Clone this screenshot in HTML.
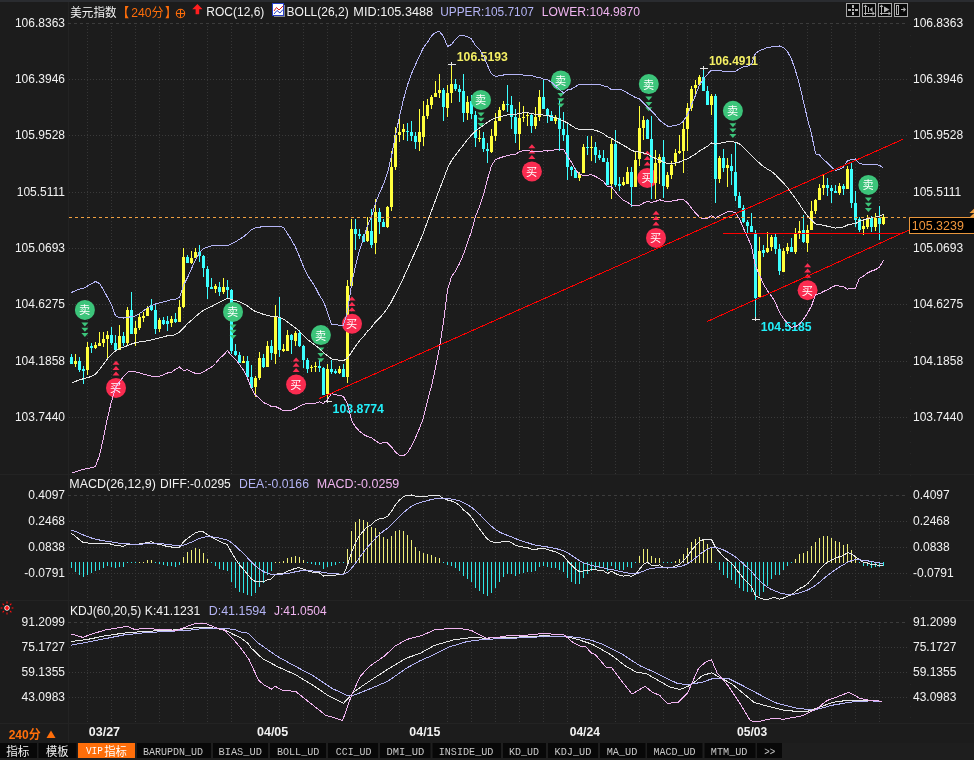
<!DOCTYPE html>
<html><head><meta charset="utf-8"><style>
html,body{margin:0;padding:0;background:#1c1c1c;}
body{width:974px;height:760px;overflow:hidden;position:relative;}
</style></head><body>
<svg width="974" height="760" viewBox="0 0 974 760" style="position:absolute;left:0;top:0" font-family="Liberation Sans, Arial, sans-serif"><defs><clipPath id="cm"><rect x="69" y="22" width="838" height="452"/></clipPath><clipPath id="cmacd"><rect x="69" y="475" width="838" height="125"/></clipPath><clipPath id="ckdj"><rect x="69" y="601" width="838" height="122"/></clipPath></defs><rect width="974" height="760" fill="#1c1c1c"/><rect x="0" y="0" width="974" height="2" fill="#2a2c30"/><g shape-rendering="crispEdges"><rect x="0" y="474" width="974" height="1" fill="#232323"/><rect x="0" y="600" width="974" height="1" fill="#232323"/><rect x="0" y="723" width="974" height="1" fill="#232323"/><rect x="68" y="2" width="1" height="741" fill="#232323"/><line x1="910.5" y1="24" x2="910.5" y2="722" stroke="#262626" stroke-dasharray="1 10"/><line x1="68" y1="23.5" x2="907" y2="23.5" stroke="#3c3c3c" stroke-dasharray="3 3"/><line x1="69" y1="79.5" x2="907" y2="79.5" stroke="#3a3a3a" stroke-dasharray="1 2"/><line x1="69" y1="135.5" x2="907" y2="135.5" stroke="#3a3a3a" stroke-dasharray="1 2"/><line x1="69" y1="192.5" x2="907" y2="192.5" stroke="#3a3a3a" stroke-dasharray="1 2"/><line x1="69" y1="248.5" x2="907" y2="248.5" stroke="#3a3a3a" stroke-dasharray="1 2"/><line x1="69" y1="304.5" x2="907" y2="304.5" stroke="#3a3a3a" stroke-dasharray="1 2"/><line x1="69" y1="361.5" x2="907" y2="361.5" stroke="#3a3a3a" stroke-dasharray="1 2"/><line x1="69" y1="417.5" x2="907" y2="417.5" stroke="#3a3a3a" stroke-dasharray="1 2"/><line x1="68" y1="495.5" x2="907" y2="495.5" stroke="#3c3c3c" stroke-dasharray="3 3"/><line x1="69" y1="521.5" x2="907" y2="521.5" stroke="#3a3a3a" stroke-dasharray="1 2"/><line x1="69" y1="547.5" x2="907" y2="547.5" stroke="#3a3a3a" stroke-dasharray="1 2"/><line x1="69" y1="573.5" x2="907" y2="573.5" stroke="#3a3a3a" stroke-dasharray="1 2"/><line x1="68" y1="622.5" x2="907" y2="622.5" stroke="#3c3c3c" stroke-dasharray="3 3"/><line x1="69" y1="647.5" x2="907" y2="647.5" stroke="#3a3a3a" stroke-dasharray="1 2"/><line x1="69" y1="672.5" x2="907" y2="672.5" stroke="#3a3a3a" stroke-dasharray="1 2"/><line x1="69" y1="697.5" x2="907" y2="697.5" stroke="#3a3a3a" stroke-dasharray="1 2"/><line x1="87.5" y1="26" x2="87.5" y2="474" stroke="#363636" stroke-dasharray="1 2"/><line x1="87.5" y1="498" x2="87.5" y2="600" stroke="#363636" stroke-dasharray="1 2"/><line x1="87.5" y1="625" x2="87.5" y2="723" stroke="#363636" stroke-dasharray="1 2"/><line x1="111.5" y1="26" x2="111.5" y2="474" stroke="#363636" stroke-dasharray="1 2"/><line x1="111.5" y1="498" x2="111.5" y2="600" stroke="#363636" stroke-dasharray="1 2"/><line x1="111.5" y1="625" x2="111.5" y2="723" stroke="#363636" stroke-dasharray="1 2"/><line x1="135.5" y1="26" x2="135.5" y2="474" stroke="#363636" stroke-dasharray="1 2"/><line x1="135.5" y1="498" x2="135.5" y2="600" stroke="#363636" stroke-dasharray="1 2"/><line x1="135.5" y1="625" x2="135.5" y2="723" stroke="#363636" stroke-dasharray="1 2"/><line x1="159.5" y1="26" x2="159.5" y2="474" stroke="#363636" stroke-dasharray="1 2"/><line x1="159.5" y1="498" x2="159.5" y2="600" stroke="#363636" stroke-dasharray="1 2"/><line x1="159.5" y1="625" x2="159.5" y2="723" stroke="#363636" stroke-dasharray="1 2"/><line x1="183.5" y1="26" x2="183.5" y2="474" stroke="#363636" stroke-dasharray="1 2"/><line x1="183.5" y1="498" x2="183.5" y2="600" stroke="#363636" stroke-dasharray="1 2"/><line x1="183.5" y1="625" x2="183.5" y2="723" stroke="#363636" stroke-dasharray="1 2"/><line x1="207.5" y1="26" x2="207.5" y2="474" stroke="#363636" stroke-dasharray="1 2"/><line x1="207.5" y1="498" x2="207.5" y2="600" stroke="#363636" stroke-dasharray="1 2"/><line x1="207.5" y1="625" x2="207.5" y2="723" stroke="#363636" stroke-dasharray="1 2"/><line x1="231.5" y1="26" x2="231.5" y2="474" stroke="#363636" stroke-dasharray="1 2"/><line x1="231.5" y1="498" x2="231.5" y2="600" stroke="#363636" stroke-dasharray="1 2"/><line x1="231.5" y1="625" x2="231.5" y2="723" stroke="#363636" stroke-dasharray="1 2"/><line x1="255.5" y1="26" x2="255.5" y2="474" stroke="#363636" stroke-dasharray="1 2"/><line x1="255.5" y1="498" x2="255.5" y2="600" stroke="#363636" stroke-dasharray="1 2"/><line x1="255.5" y1="625" x2="255.5" y2="723" stroke="#363636" stroke-dasharray="1 2"/><line x1="279.5" y1="26" x2="279.5" y2="474" stroke="#363636" stroke-dasharray="1 2"/><line x1="279.5" y1="498" x2="279.5" y2="600" stroke="#363636" stroke-dasharray="1 2"/><line x1="279.5" y1="625" x2="279.5" y2="723" stroke="#363636" stroke-dasharray="1 2"/><line x1="303.5" y1="26" x2="303.5" y2="474" stroke="#363636" stroke-dasharray="1 2"/><line x1="303.5" y1="498" x2="303.5" y2="600" stroke="#363636" stroke-dasharray="1 2"/><line x1="303.5" y1="625" x2="303.5" y2="723" stroke="#363636" stroke-dasharray="1 2"/><line x1="327.5" y1="26" x2="327.5" y2="474" stroke="#363636" stroke-dasharray="1 2"/><line x1="327.5" y1="498" x2="327.5" y2="600" stroke="#363636" stroke-dasharray="1 2"/><line x1="327.5" y1="625" x2="327.5" y2="723" stroke="#363636" stroke-dasharray="1 2"/><line x1="351.5" y1="26" x2="351.5" y2="474" stroke="#363636" stroke-dasharray="1 2"/><line x1="351.5" y1="498" x2="351.5" y2="600" stroke="#363636" stroke-dasharray="1 2"/><line x1="351.5" y1="625" x2="351.5" y2="723" stroke="#363636" stroke-dasharray="1 2"/><line x1="375.5" y1="26" x2="375.5" y2="474" stroke="#363636" stroke-dasharray="1 2"/><line x1="375.5" y1="498" x2="375.5" y2="600" stroke="#363636" stroke-dasharray="1 2"/><line x1="375.5" y1="625" x2="375.5" y2="723" stroke="#363636" stroke-dasharray="1 2"/><line x1="399.5" y1="26" x2="399.5" y2="474" stroke="#363636" stroke-dasharray="1 2"/><line x1="399.5" y1="498" x2="399.5" y2="600" stroke="#363636" stroke-dasharray="1 2"/><line x1="399.5" y1="625" x2="399.5" y2="723" stroke="#363636" stroke-dasharray="1 2"/><line x1="423.5" y1="26" x2="423.5" y2="474" stroke="#363636" stroke-dasharray="1 2"/><line x1="423.5" y1="498" x2="423.5" y2="600" stroke="#363636" stroke-dasharray="1 2"/><line x1="423.5" y1="625" x2="423.5" y2="723" stroke="#363636" stroke-dasharray="1 2"/><line x1="447.5" y1="26" x2="447.5" y2="474" stroke="#363636" stroke-dasharray="1 2"/><line x1="447.5" y1="498" x2="447.5" y2="600" stroke="#363636" stroke-dasharray="1 2"/><line x1="447.5" y1="625" x2="447.5" y2="723" stroke="#363636" stroke-dasharray="1 2"/><line x1="471.5" y1="26" x2="471.5" y2="474" stroke="#363636" stroke-dasharray="1 2"/><line x1="471.5" y1="498" x2="471.5" y2="600" stroke="#363636" stroke-dasharray="1 2"/><line x1="471.5" y1="625" x2="471.5" y2="723" stroke="#363636" stroke-dasharray="1 2"/><line x1="495.5" y1="26" x2="495.5" y2="474" stroke="#363636" stroke-dasharray="1 2"/><line x1="495.5" y1="498" x2="495.5" y2="600" stroke="#363636" stroke-dasharray="1 2"/><line x1="495.5" y1="625" x2="495.5" y2="723" stroke="#363636" stroke-dasharray="1 2"/><line x1="519.5" y1="26" x2="519.5" y2="474" stroke="#363636" stroke-dasharray="1 2"/><line x1="519.5" y1="498" x2="519.5" y2="600" stroke="#363636" stroke-dasharray="1 2"/><line x1="519.5" y1="625" x2="519.5" y2="723" stroke="#363636" stroke-dasharray="1 2"/><line x1="543.5" y1="26" x2="543.5" y2="474" stroke="#363636" stroke-dasharray="1 2"/><line x1="543.5" y1="498" x2="543.5" y2="600" stroke="#363636" stroke-dasharray="1 2"/><line x1="543.5" y1="625" x2="543.5" y2="723" stroke="#363636" stroke-dasharray="1 2"/><line x1="567.5" y1="26" x2="567.5" y2="474" stroke="#363636" stroke-dasharray="1 2"/><line x1="567.5" y1="498" x2="567.5" y2="600" stroke="#363636" stroke-dasharray="1 2"/><line x1="567.5" y1="625" x2="567.5" y2="723" stroke="#363636" stroke-dasharray="1 2"/><line x1="591.5" y1="26" x2="591.5" y2="474" stroke="#363636" stroke-dasharray="1 2"/><line x1="591.5" y1="498" x2="591.5" y2="600" stroke="#363636" stroke-dasharray="1 2"/><line x1="591.5" y1="625" x2="591.5" y2="723" stroke="#363636" stroke-dasharray="1 2"/><line x1="615.5" y1="26" x2="615.5" y2="474" stroke="#363636" stroke-dasharray="1 2"/><line x1="615.5" y1="498" x2="615.5" y2="600" stroke="#363636" stroke-dasharray="1 2"/><line x1="615.5" y1="625" x2="615.5" y2="723" stroke="#363636" stroke-dasharray="1 2"/><line x1="639.5" y1="26" x2="639.5" y2="474" stroke="#363636" stroke-dasharray="1 2"/><line x1="639.5" y1="498" x2="639.5" y2="600" stroke="#363636" stroke-dasharray="1 2"/><line x1="639.5" y1="625" x2="639.5" y2="723" stroke="#363636" stroke-dasharray="1 2"/><line x1="663.5" y1="26" x2="663.5" y2="474" stroke="#363636" stroke-dasharray="1 2"/><line x1="663.5" y1="498" x2="663.5" y2="600" stroke="#363636" stroke-dasharray="1 2"/><line x1="663.5" y1="625" x2="663.5" y2="723" stroke="#363636" stroke-dasharray="1 2"/><line x1="687.5" y1="26" x2="687.5" y2="474" stroke="#363636" stroke-dasharray="1 2"/><line x1="687.5" y1="498" x2="687.5" y2="600" stroke="#363636" stroke-dasharray="1 2"/><line x1="687.5" y1="625" x2="687.5" y2="723" stroke="#363636" stroke-dasharray="1 2"/><line x1="711.5" y1="26" x2="711.5" y2="474" stroke="#363636" stroke-dasharray="1 2"/><line x1="711.5" y1="498" x2="711.5" y2="600" stroke="#363636" stroke-dasharray="1 2"/><line x1="711.5" y1="625" x2="711.5" y2="723" stroke="#363636" stroke-dasharray="1 2"/><line x1="735.5" y1="26" x2="735.5" y2="474" stroke="#363636" stroke-dasharray="1 2"/><line x1="735.5" y1="498" x2="735.5" y2="600" stroke="#363636" stroke-dasharray="1 2"/><line x1="735.5" y1="625" x2="735.5" y2="723" stroke="#363636" stroke-dasharray="1 2"/><line x1="759.5" y1="26" x2="759.5" y2="474" stroke="#363636" stroke-dasharray="1 2"/><line x1="759.5" y1="498" x2="759.5" y2="600" stroke="#363636" stroke-dasharray="1 2"/><line x1="759.5" y1="625" x2="759.5" y2="723" stroke="#363636" stroke-dasharray="1 2"/><line x1="783.5" y1="26" x2="783.5" y2="474" stroke="#363636" stroke-dasharray="1 2"/><line x1="783.5" y1="498" x2="783.5" y2="600" stroke="#363636" stroke-dasharray="1 2"/><line x1="783.5" y1="625" x2="783.5" y2="723" stroke="#363636" stroke-dasharray="1 2"/><line x1="807.5" y1="26" x2="807.5" y2="474" stroke="#363636" stroke-dasharray="1 2"/><line x1="807.5" y1="498" x2="807.5" y2="600" stroke="#363636" stroke-dasharray="1 2"/><line x1="807.5" y1="625" x2="807.5" y2="723" stroke="#363636" stroke-dasharray="1 2"/><line x1="831.5" y1="26" x2="831.5" y2="474" stroke="#363636" stroke-dasharray="1 2"/><line x1="831.5" y1="498" x2="831.5" y2="600" stroke="#363636" stroke-dasharray="1 2"/><line x1="831.5" y1="625" x2="831.5" y2="723" stroke="#363636" stroke-dasharray="1 2"/><line x1="855.5" y1="26" x2="855.5" y2="474" stroke="#363636" stroke-dasharray="1 2"/><line x1="855.5" y1="498" x2="855.5" y2="600" stroke="#363636" stroke-dasharray="1 2"/><line x1="855.5" y1="625" x2="855.5" y2="723" stroke="#363636" stroke-dasharray="1 2"/><line x1="879.5" y1="26" x2="879.5" y2="474" stroke="#363636" stroke-dasharray="1 2"/><line x1="879.5" y1="498" x2="879.5" y2="600" stroke="#363636" stroke-dasharray="1 2"/><line x1="879.5" y1="625" x2="879.5" y2="723" stroke="#363636" stroke-dasharray="1 2"/></g><g font-size="12" fill="#f2f2f2"><text x="65" y="27.3" font-size="12" text-anchor="end">106.8363</text><text x="913" y="27.3" font-size="12">106.8363</text><text x="65" y="83.3" font-size="12" text-anchor="end">106.3946</text><text x="913" y="83.3" font-size="12">106.3946</text><text x="65" y="139.3" font-size="12" text-anchor="end">105.9528</text><text x="913" y="139.3" font-size="12">105.9528</text><text x="65" y="196.3" font-size="12" text-anchor="end">105.5111</text><text x="913" y="196.3" font-size="12">105.5111</text><text x="65" y="252.3" font-size="12" text-anchor="end">105.0693</text><text x="913" y="252.3" font-size="12">105.0693</text><text x="65" y="308.3" font-size="12" text-anchor="end">104.6275</text><text x="913" y="308.3" font-size="12">104.6275</text><text x="65" y="365.3" font-size="12" text-anchor="end">104.1858</text><text x="913" y="365.3" font-size="12">104.1858</text><text x="65" y="421.3" font-size="12" text-anchor="end">103.7440</text><text x="913" y="421.3" font-size="12">103.7440</text><text x="65" y="499.3" font-size="12" text-anchor="end">0.4097</text><text x="913" y="499.3" font-size="12">0.4097</text><text x="65" y="525.3" font-size="12" text-anchor="end">0.2468</text><text x="913" y="525.3" font-size="12">0.2468</text><text x="65" y="551.3" font-size="12" text-anchor="end">0.0838</text><text x="913" y="551.3" font-size="12">0.0838</text><text x="65" y="577.3" font-size="12" text-anchor="end">-0.0791</text><text x="913" y="577.3" font-size="12">-0.0791</text><text x="65" y="626.3" font-size="12" text-anchor="end">91.2099</text><text x="913" y="626.3" font-size="12">91.2099</text><text x="65" y="651.3" font-size="12" text-anchor="end">75.1727</text><text x="913" y="651.3" font-size="12">75.1727</text><text x="65" y="676.3" font-size="12" text-anchor="end">59.1355</text><text x="913" y="676.3" font-size="12">59.1355</text><text x="65" y="701.3" font-size="12" text-anchor="end">43.0983</text><text x="913" y="701.3" font-size="12">43.0983</text></g><g clip-path="url(#cm)"><g shape-rendering="crispEdges" fill="#3cffff"><rect x="71.0" y="354.2" width="1" height="9.5"/><rect x="70.0" y="356.7" width="3" height="7.0"/></g><g shape-rendering="crispEdges" fill="#ffff3c"><rect x="75.0" y="354.0" width="1" height="13.0"/><rect x="74.0" y="361.0" width="3" height="3.0"/></g><g shape-rendering="crispEdges" fill="#3cffff"><rect x="79.0" y="356.8" width="1" height="15.4"/><rect x="78.0" y="360.8" width="3" height="8.8"/></g><g shape-rendering="crispEdges" fill="#3cffff"><rect x="83.0" y="365.9" width="1" height="17.9"/><rect x="82.0" y="368.9" width="3" height="2.3"/></g><polygon points="81.4,322.4 88.4,322.4 84.9,326.4" fill="#3cc47a"/><polygon points="81.4,327.7 88.4,327.7 84.9,331.7" fill="#3cc47a"/><polygon points="81.4,333.0 88.4,333.0 84.9,337.0" fill="#3cc47a"/><circle cx="84.9" cy="309.9" r="10" fill="#3cc47a"/><text x="84.6" y="314.3" text-anchor="middle" font-size="11.2" fill="#fff" font-family="Noto Sans CJK SC, sans-serif">卖</text><g shape-rendering="crispEdges" fill="#ffff3c"><rect x="87.0" y="342.0" width="1" height="32.8"/><rect x="86.0" y="347.2" width="3" height="23.0"/></g><g shape-rendering="crispEdges" fill="#3cffff"><rect x="91.0" y="343.0" width="1" height="9.7"/><rect x="90.0" y="345.5" width="3" height="2.6"/></g><g shape-rendering="crispEdges" fill="#ffff3c"><rect x="95.0" y="342.0" width="1" height="6.8"/><rect x="94.0" y="344.8" width="3" height="2.7"/></g><g shape-rendering="crispEdges" fill="#ffff3c"><rect x="99.0" y="332.0" width="1" height="13.9"/><rect x="98.0" y="343.0" width="3" height="2.9"/></g><g shape-rendering="crispEdges" fill="#ffff3c"><rect x="103.0" y="332.0" width="1" height="14.8"/><rect x="102.0" y="339.0" width="3" height="3.6"/></g><g shape-rendering="crispEdges" fill="#ffff3c"><rect x="107.0" y="331.2" width="1" height="26.5"/><rect x="106.0" y="334.7" width="3" height="4.0"/></g><g shape-rendering="crispEdges" fill="#3cffff"><rect x="111.0" y="327.2" width="1" height="17.6"/><rect x="110.0" y="335.1" width="3" height="7.9"/></g><g shape-rendering="crispEdges" fill="#3cffff"><rect x="115.0" y="335.1" width="1" height="14.7"/><rect x="114.0" y="343.0" width="3" height="6.6"/></g><polygon points="112.5,375.4 119.5,375.4 116.0,371.4" fill="#fa2c50"/><polygon points="112.5,370.1 119.5,370.1 116.0,366.1" fill="#fa2c50"/><polygon points="112.5,364.8 119.5,364.8 116.0,360.8" fill="#fa2c50"/><circle cx="116" cy="387.9" r="10" fill="#fa2c50"/><text x="115.7" y="392.3" text-anchor="middle" font-size="11.2" fill="#fff" font-family="Noto Sans CJK SC, sans-serif">买</text><g shape-rendering="crispEdges" fill="#ffff3c"><rect x="119.0" y="325.2" width="1" height="24.4"/><rect x="118.0" y="336.0" width="3" height="13.6"/></g><g shape-rendering="crispEdges" fill="#3cffff"><rect x="123.0" y="332.0" width="1" height="13.9"/><rect x="122.0" y="336.0" width="3" height="7.0"/></g><g shape-rendering="crispEdges" fill="#ffff3c"><rect x="127.0" y="307.1" width="1" height="38.5"/><rect x="126.0" y="310.1" width="3" height="32.9"/></g><g shape-rendering="crispEdges" fill="#3cffff"><rect x="131.0" y="292.2" width="1" height="41.6"/><rect x="130.0" y="310.1" width="3" height="23.7"/></g><g shape-rendering="crispEdges" fill="#ffff3c"><rect x="135.0" y="320.9" width="1" height="25.0"/><rect x="134.0" y="328.1" width="3" height="5.9"/></g><g shape-rendering="crispEdges" fill="#ffff3c"><rect x="139.0" y="313.0" width="1" height="16.8"/><rect x="138.0" y="317.2" width="3" height="10.9"/></g><g shape-rendering="crispEdges" fill="#ffff3c"><rect x="143.0" y="312.0" width="1" height="10.0"/><rect x="142.0" y="315.9" width="3" height="1.7"/></g><g shape-rendering="crispEdges" fill="#ffff3c"><rect x="147.0" y="306.4" width="1" height="9.5"/><rect x="146.0" y="307.7" width="3" height="7.9"/></g><g shape-rendering="crispEdges" fill="#3cffff"><rect x="151.0" y="299.2" width="1" height="11.8"/><rect x="150.0" y="305.1" width="3" height="5.3"/></g><g shape-rendering="crispEdges" fill="#3cffff"><rect x="155.0" y="304.5" width="1" height="29.2"/><rect x="154.0" y="310.0" width="3" height="19.2"/></g><g shape-rendering="crispEdges" fill="#ffff3c"><rect x="159.0" y="318.0" width="1" height="13.8"/><rect x="158.0" y="319.6" width="3" height="9.2"/></g><g shape-rendering="crispEdges" fill="#3cffff"><rect x="163.0" y="317.0" width="1" height="7.5"/><rect x="162.0" y="320.0" width="3" height="4.2"/></g><g shape-rendering="crispEdges" fill="#3cffff"><rect x="167.0" y="316.0" width="1" height="14.8"/><rect x="166.0" y="320.9" width="3" height="2.7"/></g><g shape-rendering="crispEdges" fill="#ffff3c"><rect x="171.0" y="316.0" width="1" height="10.8"/><rect x="170.0" y="319.0" width="3" height="4.2"/></g><g shape-rendering="crispEdges" fill="#3cffff"><rect x="175.0" y="313.0" width="1" height="9.6"/><rect x="174.0" y="319.0" width="3" height="3.2"/></g><g shape-rendering="crispEdges" fill="#ffff3c"><rect x="179.0" y="300.3" width="1" height="21.5"/><rect x="178.0" y="307.1" width="3" height="14.7"/></g><g shape-rendering="crispEdges" fill="#ffff3c"><rect x="183.0" y="248.2" width="1" height="59.6"/><rect x="182.0" y="257.1" width="3" height="50.3"/></g><g shape-rendering="crispEdges" fill="#3cffff"><rect x="187.0" y="255.1" width="1" height="7.5"/><rect x="186.0" y="257.1" width="3" height="5.5"/></g><g shape-rendering="crispEdges" fill="#ffff3c"><rect x="191.0" y="251.2" width="1" height="12.5"/><rect x="190.0" y="258.4" width="3" height="4.6"/></g><g shape-rendering="crispEdges" fill="#ffff3c"><rect x="195.0" y="248.2" width="1" height="9.6"/><rect x="194.0" y="252.1" width="3" height="5.7"/></g><g shape-rendering="crispEdges" fill="#3cffff"><rect x="199.0" y="245.3" width="1" height="16.4"/><rect x="198.0" y="251.8" width="3" height="4.0"/></g><g shape-rendering="crispEdges" fill="#3cffff"><rect x="203.0" y="255.1" width="1" height="21.7"/><rect x="202.0" y="255.5" width="3" height="12.1"/></g><g shape-rendering="crispEdges" fill="#3cffff"><rect x="207.0" y="266.0" width="1" height="33.0"/><rect x="206.0" y="269.2" width="3" height="17.5"/></g><g shape-rendering="crispEdges" fill="#3cffff"><rect x="211.0" y="278.2" width="1" height="10.8"/><rect x="210.0" y="286.7" width="3" height="2.3"/></g><g shape-rendering="crispEdges" fill="#ffff3c"><rect x="215.0" y="284.0" width="1" height="8.6"/><rect x="214.0" y="286.3" width="3" height="2.7"/></g><g shape-rendering="crispEdges" fill="#3cffff"><rect x="219.0" y="282.1" width="1" height="13.8"/><rect x="218.0" y="286.7" width="3" height="4.9"/></g><g shape-rendering="crispEdges" fill="#ffff3c"><rect x="223.0" y="277.9" width="1" height="16.1"/><rect x="222.0" y="286.7" width="3" height="4.9"/></g><g shape-rendering="crispEdges" fill="#3cffff"><rect x="227.0" y="279.9" width="1" height="18.4"/><rect x="226.0" y="286.8" width="3" height="2.9"/></g><g shape-rendering="crispEdges" fill="#3cffff"><rect x="231.0" y="289.1" width="1" height="65.1"/><rect x="230.0" y="290.0" width="3" height="60.9"/></g><polygon points="229.5,324.4 236.5,324.4 233.0,328.4" fill="#3cc47a"/><polygon points="229.5,329.7 236.5,329.7 233.0,333.7" fill="#3cc47a"/><polygon points="229.5,335.0 236.5,335.0 233.0,339.0" fill="#3cc47a"/><circle cx="233" cy="311.9" r="10" fill="#3cc47a"/><text x="232.7" y="316.3" text-anchor="middle" font-size="11.2" fill="#fff" font-family="Noto Sans CJK SC, sans-serif">卖</text><g shape-rendering="crispEdges" fill="#3cffff"><rect x="235.0" y="344.0" width="1" height="11.5"/><rect x="234.0" y="350.9" width="3" height="4.4"/></g><g shape-rendering="crispEdges" fill="#3cffff"><rect x="239.0" y="351.8" width="1" height="11.0"/><rect x="238.0" y="354.9" width="3" height="7.9"/></g><g shape-rendering="crispEdges" fill="#ffff3c"><rect x="243.0" y="355.8" width="1" height="7.0"/><rect x="242.0" y="360.5" width="3" height="2.3"/></g><g shape-rendering="crispEdges" fill="#3cffff"><rect x="247.0" y="355.9" width="1" height="20.9"/><rect x="246.0" y="360.8" width="3" height="16.0"/></g><g shape-rendering="crispEdges" fill="#3cffff"><rect x="251.0" y="365.1" width="1" height="22.8"/><rect x="250.0" y="376.8" width="3" height="11.1"/></g><g shape-rendering="crispEdges" fill="#ffff3c"><rect x="255.0" y="376.2" width="1" height="20.3"/><rect x="254.0" y="378.0" width="3" height="9.3"/></g><g shape-rendering="crispEdges" fill="#ffff3c"><rect x="259.0" y="352.2" width="1" height="27.7"/><rect x="258.0" y="358.1" width="3" height="19.9"/></g><g shape-rendering="crispEdges" fill="#3cffff"><rect x="263.0" y="354.0" width="1" height="13.6"/><rect x="262.0" y="358.1" width="3" height="8.9"/></g><g shape-rendering="crispEdges" fill="#ffff3c"><rect x="267.0" y="341.1" width="1" height="25.9"/><rect x="266.0" y="346.0" width="3" height="21.0"/></g><g shape-rendering="crispEdges" fill="#3cffff"><rect x="271.0" y="339.9" width="1" height="19.7"/><rect x="270.0" y="346.0" width="3" height="7.4"/></g><g shape-rendering="crispEdges" fill="#ffff3c"><rect x="275.0" y="304.9" width="1" height="58.9"/><rect x="274.0" y="316.7" width="3" height="36.9"/></g><g shape-rendering="crispEdges" fill="#3cffff"><rect x="279.0" y="297.0" width="1" height="59.6"/><rect x="278.0" y="317.4" width="3" height="32.2"/></g><g shape-rendering="crispEdges" fill="#ffff3c"><rect x="283.0" y="344.2" width="1" height="7.4"/><rect x="282.0" y="349.0" width="3" height="1.8"/></g><g shape-rendering="crispEdges" fill="#ffff3c"><rect x="287.0" y="330.3" width="1" height="20.3"/><rect x="286.0" y="335.0" width="3" height="15.6"/></g><g shape-rendering="crispEdges" fill="#3cffff"><rect x="291.0" y="334.2" width="1" height="19.4"/><rect x="290.0" y="334.5" width="3" height="5.9"/></g><g shape-rendering="crispEdges" fill="#ffff3c"><rect x="295.0" y="330.8" width="1" height="14.8"/><rect x="294.0" y="332.5" width="3" height="8.6"/></g><polygon points="292.6,372.0 299.6,372.0 296.1,368.0" fill="#fa2c50"/><polygon points="292.6,366.7 299.6,366.7 296.1,362.7" fill="#fa2c50"/><polygon points="292.6,361.4 299.6,361.4 296.1,357.4" fill="#fa2c50"/><circle cx="296.1" cy="384.5" r="10" fill="#fa2c50"/><text x="295.8" y="388.9" text-anchor="middle" font-size="11.2" fill="#fff" font-family="Noto Sans CJK SC, sans-serif">买</text><g shape-rendering="crispEdges" fill="#3cffff"><rect x="299.0" y="329.9" width="1" height="16.7"/><rect x="298.0" y="332.5" width="3" height="13.5"/></g><g shape-rendering="crispEdges" fill="#3cffff"><rect x="303.0" y="345.0" width="1" height="22.6"/><rect x="302.0" y="345.8" width="3" height="13.8"/></g><g shape-rendering="crispEdges" fill="#3cffff"><rect x="307.0" y="358.1" width="1" height="14.4"/><rect x="306.0" y="359.6" width="3" height="9.2"/></g><g shape-rendering="crispEdges" fill="#ffff3c"><rect x="311.0" y="365.1" width="1" height="6.8"/><rect x="310.0" y="366.7" width="3" height="1.7"/></g><g shape-rendering="crispEdges" fill="#ffff3c"><rect x="315.0" y="362.0" width="1" height="9.9"/><rect x="314.0" y="365.7" width="3" height="1.3"/></g><g shape-rendering="crispEdges" fill="#3cffff"><rect x="319.0" y="359.6" width="1" height="12.3"/><rect x="318.0" y="366.3" width="3" height="2.1"/></g><polygon points="317.4,347.6 324.4,347.6 320.9,351.6" fill="#3cc47a"/><polygon points="317.4,352.9 324.4,352.9 320.9,356.9" fill="#3cc47a"/><polygon points="317.4,358.2 324.4,358.2 320.9,362.2" fill="#3cc47a"/><circle cx="320.9" cy="335.1" r="10" fill="#3cc47a"/><text x="320.6" y="339.5" text-anchor="middle" font-size="11.2" fill="#fff" font-family="Noto Sans CJK SC, sans-serif">卖</text><g shape-rendering="crispEdges" fill="#3cffff"><rect x="323.0" y="367.0" width="1" height="28.3"/><rect x="322.0" y="368.2" width="3" height="27.1"/></g><g shape-rendering="crispEdges" fill="#ffff3c"><rect x="327.0" y="363.9" width="1" height="37.6"/><rect x="326.0" y="369.2" width="3" height="24.9"/></g><g shape-rendering="crispEdges" fill="#3cffff"><rect x="331.0" y="359.8" width="1" height="13.9"/><rect x="330.0" y="369.2" width="3" height="2.9"/></g><g shape-rendering="crispEdges" fill="#3cffff"><rect x="335.0" y="369.4" width="1" height="4.3"/><rect x="334.0" y="371.3" width="3" height="1.2"/></g><g shape-rendering="crispEdges" fill="#ffff3c"><rect x="339.0" y="365.7" width="1" height="8.0"/><rect x="338.0" y="369.2" width="3" height="3.3"/></g><g shape-rendering="crispEdges" fill="#3cffff"><rect x="343.0" y="364.4" width="1" height="12.6"/><rect x="342.0" y="369.2" width="3" height="7.8"/></g><g shape-rendering="crispEdges" fill="#ffff3c"><rect x="347.0" y="280.2" width="1" height="102.7"/><rect x="346.0" y="285.9" width="3" height="91.5"/></g><g shape-rendering="crispEdges" fill="#ffff3c"><rect x="351.0" y="219.1" width="1" height="66.6"/><rect x="350.0" y="229.2" width="3" height="56.5"/></g><polygon points="348.5,311.2 355.5,311.2 352.0,307.2" fill="#fa2c50"/><polygon points="348.5,305.9 355.5,305.9 352.0,301.9" fill="#fa2c50"/><polygon points="348.5,300.6 355.5,300.6 352.0,296.6" fill="#fa2c50"/><circle cx="352" cy="323.7" r="10" fill="#fa2c50"/><text x="351.7" y="328.1" text-anchor="middle" font-size="11.2" fill="#fff" font-family="Noto Sans CJK SC, sans-serif">买</text><g shape-rendering="crispEdges" fill="#3cffff"><rect x="355.0" y="219.1" width="1" height="30.6"/><rect x="354.0" y="229.2" width="3" height="4.4"/></g><g shape-rendering="crispEdges" fill="#3cffff"><rect x="359.0" y="229.2" width="1" height="9.6"/><rect x="358.0" y="234.0" width="3" height="1.5"/></g><g shape-rendering="crispEdges" fill="#3cffff"><rect x="363.0" y="233.6" width="1" height="8.8"/><rect x="362.0" y="235.5" width="3" height="6.9"/></g><g shape-rendering="crispEdges" fill="#ffff3c"><rect x="367.0" y="217.1" width="1" height="24.7"/><rect x="366.0" y="231.3" width="3" height="9.7"/></g><g shape-rendering="crispEdges" fill="#3cffff"><rect x="371.0" y="209.2" width="1" height="38.4"/><rect x="370.0" y="231.3" width="3" height="13.4"/></g><g shape-rendering="crispEdges" fill="#ffff3c"><rect x="375.0" y="199.0" width="1" height="54.9"/><rect x="374.0" y="212.1" width="3" height="30.7"/></g><g shape-rendering="crispEdges" fill="#3cffff"><rect x="379.0" y="207.9" width="1" height="26.0"/><rect x="378.0" y="211.8" width="3" height="9.9"/></g><g shape-rendering="crispEdges" fill="#3cffff"><rect x="383.0" y="219.1" width="1" height="7.9"/><rect x="382.0" y="222.1" width="3" height="4.9"/></g><g shape-rendering="crispEdges" fill="#ffff3c"><rect x="387.0" y="205.9" width="1" height="22.0"/><rect x="386.0" y="206.8" width="3" height="20.6"/></g><g shape-rendering="crispEdges" fill="#ffff3c"><rect x="391.0" y="151.4" width="1" height="59.1"/><rect x="390.0" y="166.8" width="3" height="39.8"/></g><g shape-rendering="crispEdges" fill="#ffff3c"><rect x="395.0" y="126.8" width="1" height="43.1"/><rect x="394.0" y="135.0" width="3" height="31.8"/></g><g shape-rendering="crispEdges" fill="#ffff3c"><rect x="399.0" y="117.9" width="1" height="23.9"/><rect x="398.0" y="132.4" width="3" height="2.6"/></g><g shape-rendering="crispEdges" fill="#ffff3c"><rect x="403.0" y="123.8" width="1" height="16.2"/><rect x="402.0" y="129.1" width="3" height="2.6"/></g><g shape-rendering="crispEdges" fill="#3cffff"><rect x="407.0" y="122.8" width="1" height="18.1"/><rect x="406.0" y="130.8" width="3" height="1.0"/></g><g shape-rendering="crispEdges" fill="#3cffff"><rect x="411.0" y="120.8" width="1" height="20.1"/><rect x="410.0" y="132.4" width="3" height="3.3"/></g><g shape-rendering="crispEdges" fill="#3cffff"><rect x="415.0" y="132.1" width="1" height="16.7"/><rect x="414.0" y="136.0" width="3" height="5.6"/></g><g shape-rendering="crispEdges" fill="#ffff3c"><rect x="419.0" y="109.0" width="1" height="41.8"/><rect x="418.0" y="132.1" width="3" height="9.5"/></g><g shape-rendering="crispEdges" fill="#ffff3c"><rect x="423.0" y="101.0" width="1" height="44.8"/><rect x="422.0" y="116.0" width="3" height="21.0"/></g><g shape-rendering="crispEdges" fill="#ffff3c"><rect x="427.0" y="99.1" width="1" height="19.7"/><rect x="426.0" y="105.3" width="3" height="10.2"/></g><g shape-rendering="crispEdges" fill="#ffff3c"><rect x="431.0" y="95.1" width="1" height="13.9"/><rect x="430.0" y="97.1" width="3" height="7.9"/></g><g shape-rendering="crispEdges" fill="#ffff3c"><rect x="435.0" y="81.0" width="1" height="15.8"/><rect x="434.0" y="93.2" width="3" height="3.6"/></g><g shape-rendering="crispEdges" fill="#ffff3c"><rect x="439.0" y="74.1" width="1" height="23.7"/><rect x="438.0" y="89.9" width="3" height="3.0"/></g><g shape-rendering="crispEdges" fill="#3cffff"><rect x="443.0" y="87.9" width="1" height="33.5"/><rect x="442.0" y="89.9" width="3" height="17.1"/></g><g shape-rendering="crispEdges" fill="#ffff3c"><rect x="447.0" y="85.3" width="1" height="31.5"/><rect x="446.0" y="93.2" width="3" height="14.4"/></g><g shape-rendering="crispEdges" fill="#ffff3c"><rect x="451.0" y="62.2" width="1" height="40.4"/><rect x="450.0" y="84.0" width="3" height="8.5"/></g><g shape-rendering="crispEdges" fill="#3cffff"><rect x="455.0" y="78.9" width="1" height="11.9"/><rect x="454.0" y="84.0" width="3" height="4.6"/></g><g shape-rendering="crispEdges" fill="#3cffff"><rect x="459.0" y="85.3" width="1" height="16.4"/><rect x="458.0" y="89.2" width="3" height="2.4"/></g><g shape-rendering="crispEdges" fill="#3cffff"><rect x="463.0" y="74.1" width="1" height="47.7"/><rect x="462.0" y="90.8" width="3" height="22.1"/></g><g shape-rendering="crispEdges" fill="#ffff3c"><rect x="467.0" y="96.0" width="1" height="23.5"/><rect x="466.0" y="102.1" width="3" height="10.8"/></g><g shape-rendering="crispEdges" fill="#3cffff"><rect x="471.0" y="94.7" width="1" height="24.1"/><rect x="470.0" y="101.0" width="3" height="13.2"/></g><g shape-rendering="crispEdges" fill="#3cffff"><rect x="475.0" y="111.0" width="1" height="35.6"/><rect x="474.0" y="114.7" width="3" height="23.7"/></g><g shape-rendering="crispEdges" fill="#ffff3c"><rect x="479.0" y="129.9" width="1" height="11.8"/><rect x="478.0" y="137.6" width="3" height="1.0"/></g><polygon points="477.5,112.4 484.5,112.4 481.0,116.4" fill="#3cc47a"/><polygon points="477.5,117.7 484.5,117.7 481.0,121.7" fill="#3cc47a"/><polygon points="477.5,123.0 484.5,123.0 481.0,127.0" fill="#3cc47a"/><circle cx="481" cy="99.9" r="10" fill="#3cc47a"/><text x="480.7" y="104.3" text-anchor="middle" font-size="11.2" fill="#fff" font-family="Noto Sans CJK SC, sans-serif">卖</text><g shape-rendering="crispEdges" fill="#3cffff"><rect x="483.0" y="131.8" width="1" height="19.8"/><rect x="482.0" y="137.8" width="3" height="10.9"/></g><g shape-rendering="crispEdges" fill="#3cffff"><rect x="487.0" y="143.0" width="1" height="19.8"/><rect x="486.0" y="149.0" width="3" height="2.3"/></g><g shape-rendering="crispEdges" fill="#ffff3c"><rect x="491.0" y="129.2" width="1" height="24.0"/><rect x="490.0" y="135.8" width="3" height="16.4"/></g><g shape-rendering="crispEdges" fill="#ffff3c"><rect x="495.0" y="113.4" width="1" height="27.4"/><rect x="494.0" y="120.7" width="3" height="15.1"/></g><g shape-rendering="crispEdges" fill="#ffff3c"><rect x="499.0" y="107.1" width="1" height="13.6"/><rect x="498.0" y="110.1" width="3" height="10.6"/></g><g shape-rendering="crispEdges" fill="#ffff3c"><rect x="503.0" y="101.3" width="1" height="9.5"/><rect x="502.0" y="104.2" width="3" height="5.9"/></g><g shape-rendering="crispEdges" fill="#3cffff"><rect x="507.0" y="85.1" width="1" height="26.7"/><rect x="506.0" y="103.8" width="3" height="1.0"/></g><g shape-rendering="crispEdges" fill="#3cffff"><rect x="511.0" y="96.0" width="1" height="32.6"/><rect x="510.0" y="104.9" width="3" height="11.8"/></g><g shape-rendering="crispEdges" fill="#3cffff"><rect x="515.0" y="109.2" width="1" height="33.4"/><rect x="514.0" y="116.7" width="3" height="17.1"/></g><g shape-rendering="crispEdges" fill="#ffff3c"><rect x="519.0" y="101.8" width="1" height="47.8"/><rect x="518.0" y="118.0" width="3" height="15.8"/></g><g shape-rendering="crispEdges" fill="#ffff3c"><rect x="523.0" y="105.8" width="1" height="15.8"/><rect x="522.0" y="116.7" width="3" height="1.0"/></g><g shape-rendering="crispEdges" fill="#ffff3c"><rect x="527.0" y="113.2" width="1" height="12.7"/><rect x="526.0" y="115.0" width="3" height="1.1"/></g><g shape-rendering="crispEdges" fill="#3cffff"><rect x="531.0" y="114.1" width="1" height="18.8"/><rect x="530.0" y="115.0" width="3" height="10.5"/></g><polygon points="528.4,158.9 535.4,158.9 531.9,154.9" fill="#fa2c50"/><polygon points="528.4,153.6 535.4,153.6 531.9,149.6" fill="#fa2c50"/><polygon points="528.4,148.3 535.4,148.3 531.9,144.3" fill="#fa2c50"/><circle cx="531.9" cy="171.4" r="10" fill="#fa2c50"/><text x="531.6" y="175.8" text-anchor="middle" font-size="11.2" fill="#fff" font-family="Noto Sans CJK SC, sans-serif">买</text><g shape-rendering="crispEdges" fill="#ffff3c"><rect x="535.0" y="107.1" width="1" height="21.8"/><rect x="534.0" y="116.7" width="3" height="9.2"/></g><g shape-rendering="crispEdges" fill="#ffff3c"><rect x="539.0" y="90.0" width="1" height="30.7"/><rect x="538.0" y="97.0" width="3" height="20.1"/></g><g shape-rendering="crispEdges" fill="#3cffff"><rect x="543.0" y="79.5" width="1" height="29.3"/><rect x="542.0" y="97.0" width="3" height="11.8"/></g><g shape-rendering="crispEdges" fill="#3cffff"><rect x="547.0" y="108.2" width="1" height="14.7"/><rect x="546.0" y="109.1" width="3" height="6.2"/></g><g shape-rendering="crispEdges" fill="#3cffff"><rect x="551.0" y="110.8" width="1" height="10.1"/><rect x="550.0" y="115.0" width="3" height="5.5"/></g><g shape-rendering="crispEdges" fill="#ffff3c"><rect x="555.0" y="114.7" width="1" height="9.3"/><rect x="554.0" y="117.0" width="3" height="3.5"/></g><g shape-rendering="crispEdges" fill="#3cffff"><rect x="559.0" y="99.2" width="1" height="51.6"/><rect x="558.0" y="117.6" width="3" height="11.2"/></g><polygon points="557.4,92.9 564.4,92.9 560.9,96.9" fill="#3cc47a"/><polygon points="557.4,98.2 564.4,98.2 560.9,102.2" fill="#3cc47a"/><polygon points="557.4,103.5 564.4,103.5 560.9,107.5" fill="#3cc47a"/><circle cx="560.9" cy="80.4" r="10" fill="#3cc47a"/><text x="560.6" y="84.8" text-anchor="middle" font-size="11.2" fill="#fff" font-family="Noto Sans CJK SC, sans-serif">卖</text><g shape-rendering="crispEdges" fill="#3cffff"><rect x="563.0" y="112.1" width="1" height="28.6"/><rect x="562.0" y="128.8" width="3" height="5.9"/></g><g shape-rendering="crispEdges" fill="#3cffff"><rect x="567.0" y="122.6" width="1" height="57.5"/><rect x="566.0" y="135.0" width="3" height="31.6"/></g><g shape-rendering="crispEdges" fill="#3cffff"><rect x="571.0" y="166.3" width="1" height="9.2"/><rect x="570.0" y="167.0" width="3" height="2.6"/></g><g shape-rendering="crispEdges" fill="#3cffff"><rect x="575.0" y="167.6" width="1" height="9.9"/><rect x="574.0" y="169.6" width="3" height="7.9"/></g><g shape-rendering="crispEdges" fill="#ffff3c"><rect x="579.0" y="171.6" width="1" height="9.8"/><rect x="578.0" y="173.6" width="3" height="3.9"/></g><g shape-rendering="crispEdges" fill="#ffff3c"><rect x="583.0" y="143.9" width="1" height="29.0"/><rect x="582.0" y="146.8" width="3" height="26.1"/></g><g shape-rendering="crispEdges" fill="#3cffff"><rect x="587.0" y="136.1" width="1" height="18.6"/><rect x="586.0" y="146.6" width="3" height="1.5"/></g><g shape-rendering="crispEdges" fill="#ffff3c"><rect x="591.0" y="136.1" width="1" height="25.0"/><rect x="590.0" y="146.6" width="3" height="1.5"/></g><g shape-rendering="crispEdges" fill="#3cffff"><rect x="595.0" y="142.0" width="1" height="20.6"/><rect x="594.0" y="146.8" width="3" height="7.7"/></g><g shape-rendering="crispEdges" fill="#3cffff"><rect x="599.0" y="149.9" width="1" height="9.8"/><rect x="598.0" y="154.7" width="3" height="3.1"/></g><g shape-rendering="crispEdges" fill="#3cffff"><rect x="603.0" y="149.9" width="1" height="12.5"/><rect x="602.0" y="157.8" width="3" height="4.6"/></g><g shape-rendering="crispEdges" fill="#3cffff"><rect x="607.0" y="158.2" width="1" height="26.5"/><rect x="606.0" y="161.7" width="3" height="23.0"/></g><g shape-rendering="crispEdges" fill="#ffff3c"><rect x="611.0" y="137.5" width="1" height="61.4"/><rect x="610.0" y="144.1" width="3" height="40.1"/></g><g shape-rendering="crispEdges" fill="#3cffff"><rect x="615.0" y="130.0" width="1" height="56.5"/><rect x="614.0" y="144.1" width="3" height="40.8"/></g><g shape-rendering="crispEdges" fill="#3cffff"><rect x="619.0" y="176.9" width="1" height="13.7"/><rect x="618.0" y="184.2" width="3" height="1.4"/></g><g shape-rendering="crispEdges" fill="#ffff3c"><rect x="623.0" y="177.2" width="1" height="8.3"/><rect x="622.0" y="182.3" width="3" height="2.8"/></g><g shape-rendering="crispEdges" fill="#ffff3c"><rect x="627.0" y="166.8" width="1" height="17.4"/><rect x="626.0" y="172.0" width="3" height="11.6"/></g><g shape-rendering="crispEdges" fill="#3cffff"><rect x="631.0" y="167.1" width="1" height="39.7"/><rect x="630.0" y="172.0" width="3" height="14.8"/></g><g shape-rendering="crispEdges" fill="#ffff3c"><rect x="635.0" y="151.3" width="1" height="35.9"/><rect x="634.0" y="160.3" width="3" height="26.9"/></g><g shape-rendering="crispEdges" fill="#ffff3c"><rect x="639.0" y="105.9" width="1" height="60.5"/><rect x="638.0" y="128.3" width="3" height="30.9"/></g><g shape-rendering="crispEdges" fill="#ffff3c"><rect x="643.0" y="116.1" width="1" height="23.4"/><rect x="642.0" y="119.7" width="3" height="7.9"/></g><polygon points="643.8,165.4 650.8,165.4 647.3,161.4" fill="#fa2c50"/><polygon points="643.8,160.1 650.8,160.1 647.3,156.1" fill="#fa2c50"/><polygon points="643.8,154.8 650.8,154.8 647.3,150.8" fill="#fa2c50"/><circle cx="647.3" cy="177.9" r="10" fill="#fa2c50"/><text x="647.0" y="182.3" text-anchor="middle" font-size="11.2" fill="#fff" font-family="Noto Sans CJK SC, sans-serif">买</text><g shape-rendering="crispEdges" fill="#3cffff"><rect x="647.0" y="119.1" width="1" height="20.1"/><rect x="646.0" y="119.5" width="3" height="19.7"/></g><polygon points="645.3,96.6 652.3,96.6 648.8,100.6" fill="#3cc47a"/><polygon points="645.3,101.9 652.3,101.9 648.8,105.9" fill="#3cc47a"/><polygon points="645.3,107.2 652.3,107.2 648.8,111.2" fill="#3cc47a"/><circle cx="648.8" cy="84.1" r="10" fill="#3cc47a"/><text x="648.5" y="88.5" text-anchor="middle" font-size="11.2" fill="#fff" font-family="Noto Sans CJK SC, sans-serif">卖</text><g shape-rendering="crispEdges" fill="#3cffff"><rect x="651.0" y="116.1" width="1" height="82.8"/><rect x="650.0" y="138.8" width="3" height="44.1"/></g><g shape-rendering="crispEdges" fill="#ffff3c"><rect x="655.0" y="150.0" width="1" height="48.9"/><rect x="654.0" y="162.9" width="3" height="20.0"/></g><polygon points="652.5,225.4 659.5,225.4 656.0,221.4" fill="#fa2c50"/><polygon points="652.5,220.1 659.5,220.1 656.0,216.1" fill="#fa2c50"/><polygon points="652.5,214.8 659.5,214.8 656.0,210.8" fill="#fa2c50"/><circle cx="656" cy="237.9" r="10" fill="#fa2c50"/><text x="655.7" y="242.3" text-anchor="middle" font-size="11.2" fill="#fff" font-family="Noto Sans CJK SC, sans-serif">买</text><g shape-rendering="crispEdges" fill="#ffff3c"><rect x="659.0" y="153.9" width="1" height="29.8"/><rect x="658.0" y="157.2" width="3" height="5.7"/></g><g shape-rendering="crispEdges" fill="#3cffff"><rect x="663.0" y="140.1" width="1" height="57.8"/><rect x="662.0" y="157.2" width="3" height="28.3"/></g><g shape-rendering="crispEdges" fill="#ffff3c"><rect x="667.0" y="172.1" width="1" height="16.9"/><rect x="666.0" y="175.3" width="3" height="11.2"/></g><g shape-rendering="crispEdges" fill="#ffff3c"><rect x="671.0" y="161.2" width="1" height="17.4"/><rect x="670.0" y="164.7" width="3" height="10.5"/></g><g shape-rendering="crispEdges" fill="#ffff3c"><rect x="675.0" y="149.3" width="1" height="17.1"/><rect x="674.0" y="153.3" width="3" height="8.5"/></g><g shape-rendering="crispEdges" fill="#ffff3c"><rect x="679.0" y="134.9" width="1" height="19.3"/><rect x="678.0" y="151.3" width="3" height="2.0"/></g><g shape-rendering="crispEdges" fill="#ffff3c"><rect x="683.0" y="122.1" width="1" height="50.5"/><rect x="682.0" y="129.2" width="3" height="21.5"/></g><g shape-rendering="crispEdges" fill="#ffff3c"><rect x="687.0" y="103.3" width="1" height="47.6"/><rect x="686.0" y="107.9" width="3" height="21.0"/></g><g shape-rendering="crispEdges" fill="#ffff3c"><rect x="691.0" y="85.8" width="1" height="25.0"/><rect x="690.0" y="88.8" width="3" height="19.1"/></g><g shape-rendering="crispEdges" fill="#ffff3c"><rect x="695.0" y="80.3" width="1" height="17.1"/><rect x="694.0" y="84.9" width="3" height="2.6"/></g><g shape-rendering="crispEdges" fill="#ffff3c"><rect x="699.0" y="75.0" width="1" height="9.9"/><rect x="698.0" y="77.0" width="3" height="7.9"/></g><g shape-rendering="crispEdges" fill="#3cffff"><rect x="703.0" y="66.4" width="1" height="24.1"/><rect x="702.0" y="77.0" width="3" height="13.5"/></g><g shape-rendering="crispEdges" fill="#3cffff"><rect x="707.0" y="85.8" width="1" height="18.8"/><rect x="706.0" y="91.1" width="3" height="13.5"/></g><g shape-rendering="crispEdges" fill="#ffff3c"><rect x="711.0" y="94.1" width="1" height="20.4"/><rect x="710.0" y="96.1" width="3" height="9.2"/></g><g shape-rendering="crispEdges" fill="#3cffff"><rect x="715.0" y="94.1" width="1" height="108.8"/><rect x="714.0" y="95.8" width="3" height="82.8"/></g><g shape-rendering="crispEdges" fill="#ffff3c"><rect x="719.0" y="155.8" width="1" height="27.1"/><rect x="718.0" y="157.9" width="3" height="21.0"/></g><g shape-rendering="crispEdges" fill="#3cffff"><rect x="723.0" y="148.9" width="1" height="23.1"/><rect x="722.0" y="157.9" width="3" height="9.7"/></g><g shape-rendering="crispEdges" fill="#ffff3c"><rect x="727.0" y="158.2" width="1" height="28.6"/><rect x="726.0" y="165.0" width="3" height="2.6"/></g><g shape-rendering="crispEdges" fill="#3cffff"><rect x="731.0" y="154.0" width="1" height="30.7"/><rect x="730.0" y="165.8" width="3" height="4.9"/></g><polygon points="729.4,123.3 736.4,123.3 732.9,127.3" fill="#3cc47a"/><polygon points="729.4,128.6 736.4,128.6 732.9,132.6" fill="#3cc47a"/><polygon points="729.4,133.9 736.4,133.9 732.9,137.9" fill="#3cc47a"/><circle cx="732.9" cy="110.8" r="10" fill="#3cc47a"/><text x="732.6" y="115.2" text-anchor="middle" font-size="11.2" fill="#fff" font-family="Noto Sans CJK SC, sans-serif">卖</text><g shape-rendering="crispEdges" fill="#3cffff"><rect x="735.0" y="143.0" width="1" height="57.5"/><rect x="734.0" y="172.0" width="3" height="23.7"/></g><g shape-rendering="crispEdges" fill="#3cffff"><rect x="739.0" y="191.8" width="1" height="16.6"/><rect x="738.0" y="195.8" width="3" height="11.9"/></g><g shape-rendering="crispEdges" fill="#3cffff"><rect x="743.0" y="205.1" width="1" height="17.7"/><rect x="742.0" y="208.4" width="3" height="13.3"/></g><g shape-rendering="crispEdges" fill="#3cffff"><rect x="747.0" y="220.4" width="1" height="12.3"/><rect x="746.0" y="221.7" width="3" height="4.2"/></g><g shape-rendering="crispEdges" fill="#3cffff"><rect x="751.0" y="213.0" width="1" height="19.4"/><rect x="750.0" y="225.9" width="3" height="6.5"/></g><g shape-rendering="crispEdges" fill="#3cffff"><rect x="755.0" y="229.6" width="1" height="89.3"/><rect x="754.0" y="233.3" width="3" height="64.4"/></g><g shape-rendering="crispEdges" fill="#ffff3c"><rect x="759.0" y="237.0" width="1" height="59.8"/><rect x="758.0" y="250.8" width="3" height="46.0"/></g><g shape-rendering="crispEdges" fill="#3cffff"><rect x="763.0" y="245.2" width="1" height="11.5"/><rect x="762.0" y="249.9" width="3" height="2.7"/></g><g shape-rendering="crispEdges" fill="#ffff3c"><rect x="767.0" y="232.0" width="1" height="20.6"/><rect x="766.0" y="248.0" width="3" height="3.7"/></g><g shape-rendering="crispEdges" fill="#ffff3c"><rect x="771.0" y="235.1" width="1" height="15.7"/><rect x="770.0" y="237.0" width="3" height="10.1"/></g><g shape-rendering="crispEdges" fill="#3cffff"><rect x="775.0" y="234.2" width="1" height="19.3"/><rect x="774.0" y="237.0" width="3" height="11.6"/></g><g shape-rendering="crispEdges" fill="#3cffff"><rect x="779.0" y="244.3" width="1" height="30.4"/><rect x="778.0" y="248.9" width="3" height="22.1"/></g><g shape-rendering="crispEdges" fill="#ffff3c"><rect x="783.0" y="247.5" width="1" height="24.5"/><rect x="782.0" y="250.8" width="3" height="21.2"/></g><g shape-rendering="crispEdges" fill="#ffff3c"><rect x="787.0" y="242.5" width="1" height="11.0"/><rect x="786.0" y="247.1" width="3" height="3.7"/></g><g shape-rendering="crispEdges" fill="#3cffff"><rect x="791.0" y="238.2" width="1" height="13.5"/><rect x="790.0" y="247.1" width="3" height="4.6"/></g><g shape-rendering="crispEdges" fill="#ffff3c"><rect x="795.0" y="228.3" width="1" height="25.2"/><rect x="794.0" y="233.3" width="3" height="18.4"/></g><g shape-rendering="crispEdges" fill="#ffff3c"><rect x="799.0" y="221.3" width="1" height="17.5"/><rect x="798.0" y="230.9" width="3" height="3.3"/></g><g shape-rendering="crispEdges" fill="#3cffff"><rect x="803.0" y="214.9" width="1" height="27.6"/><rect x="802.0" y="230.1" width="3" height="11.5"/></g><g shape-rendering="crispEdges" fill="#ffff3c"><rect x="807.0" y="225.3" width="1" height="26.7"/><rect x="806.0" y="229.6" width="3" height="13.8"/></g><polygon points="804.1,277.8 811.1,277.8 807.6,273.8" fill="#fa2c50"/><polygon points="804.1,272.5 811.1,272.5 807.6,268.5" fill="#fa2c50"/><polygon points="804.1,267.2 811.1,267.2 807.6,263.2" fill="#fa2c50"/><circle cx="807.6" cy="290.3" r="10" fill="#fa2c50"/><text x="807.3" y="294.7" text-anchor="middle" font-size="11.2" fill="#fff" font-family="Noto Sans CJK SC, sans-serif">买</text><g shape-rendering="crispEdges" fill="#ffff3c"><rect x="811.0" y="201.3" width="1" height="28.3"/><rect x="810.0" y="210.8" width="3" height="18.8"/></g><g shape-rendering="crispEdges" fill="#ffff3c"><rect x="815.0" y="199.0" width="1" height="15.2"/><rect x="814.0" y="200.0" width="3" height="10.8"/></g><g shape-rendering="crispEdges" fill="#ffff3c"><rect x="819.0" y="184.2" width="1" height="15.5"/><rect x="818.0" y="188.2" width="3" height="11.5"/></g><g shape-rendering="crispEdges" fill="#ffff3c"><rect x="823.0" y="175.0" width="1" height="20.0"/><rect x="822.0" y="185.3" width="3" height="2.6"/></g><g shape-rendering="crispEdges" fill="#3cffff"><rect x="827.0" y="178.3" width="1" height="18.0"/><rect x="826.0" y="184.9" width="3" height="3.3"/></g><g shape-rendering="crispEdges" fill="#3cffff"><rect x="831.0" y="184.5" width="1" height="18.1"/><rect x="830.0" y="188.2" width="3" height="2.6"/></g><g shape-rendering="crispEdges" fill="#3cffff"><rect x="835.0" y="185.3" width="1" height="7.5"/><rect x="834.0" y="191.4" width="3" height="1.4"/></g><g shape-rendering="crispEdges" fill="#ffff3c"><rect x="839.0" y="182.9" width="1" height="11.8"/><rect x="838.0" y="186.2" width="3" height="6.6"/></g><g shape-rendering="crispEdges" fill="#3cffff"><rect x="843.0" y="183.6" width="1" height="11.1"/><rect x="842.0" y="186.2" width="3" height="2.6"/></g><g shape-rendering="crispEdges" fill="#ffff3c"><rect x="847.0" y="166.1" width="1" height="22.7"/><rect x="846.0" y="168.7" width="3" height="20.1"/></g><g shape-rendering="crispEdges" fill="#3cffff"><rect x="851.0" y="163.2" width="1" height="44.7"/><rect x="850.0" y="168.7" width="3" height="34.6"/></g><g shape-rendering="crispEdges" fill="#3cffff"><rect x="855.0" y="191.1" width="1" height="35.9"/><rect x="854.0" y="203.3" width="3" height="16.4"/></g><g shape-rendering="crispEdges" fill="#3cffff"><rect x="859.0" y="217.1" width="1" height="14.5"/><rect x="858.0" y="219.1" width="3" height="10.5"/></g><g shape-rendering="crispEdges" fill="#ffff3c"><rect x="863.0" y="221.0" width="1" height="13.9"/><rect x="862.0" y="226.1" width="3" height="2.6"/></g><g shape-rendering="crispEdges" fill="#ffff3c"><rect x="867.0" y="215.1" width="1" height="13.8"/><rect x="866.0" y="218.2" width="3" height="8.8"/></g><polygon points="864.9,197.4 871.9,197.4 868.4,201.4" fill="#3cc47a"/><polygon points="864.9,202.7 871.9,202.7 868.4,206.7" fill="#3cc47a"/><polygon points="864.9,208.0 871.9,208.0 868.4,212.0" fill="#3cc47a"/><circle cx="868.4" cy="184.9" r="10" fill="#3cc47a"/><text x="868.1" y="189.3" text-anchor="middle" font-size="11.2" fill="#fff" font-family="Noto Sans CJK SC, sans-serif">卖</text><g shape-rendering="crispEdges" fill="#3cffff"><rect x="871.0" y="215.5" width="1" height="16.1"/><rect x="870.0" y="217.8" width="3" height="9.2"/></g><g shape-rendering="crispEdges" fill="#ffff3c"><rect x="875.0" y="212.9" width="1" height="17.6"/><rect x="874.0" y="218.4" width="3" height="8.6"/></g><g shape-rendering="crispEdges" fill="#3cffff"><rect x="879.0" y="205.9" width="1" height="33.6"/><rect x="878.0" y="218.4" width="3" height="5.3"/></g><g shape-rendering="crispEdges" fill="#ffff3c"><rect x="883.0" y="214.2" width="1" height="11.1"/><rect x="882.0" y="217.1" width="3" height="6.8"/></g></g><g stroke="#e6e6e6" shape-rendering="crispEdges"><line x1="448.0" y1="64.5" x2="456.0" y2="64.5"/><line x1="451.5" y1="62.0" x2="451.5" y2="66.0"/></g><g stroke="#e6e6e6" shape-rendering="crispEdges"><line x1="700.0" y1="68.5" x2="708.0" y2="68.5"/><line x1="703.5" y1="66.0" x2="703.5" y2="70.0"/></g><g stroke="#e6e6e6" shape-rendering="crispEdges"><line x1="324.0" y1="401.5" x2="332.0" y2="401.5"/><line x1="327.5" y1="399.0" x2="327.5" y2="403.0"/></g><g stroke="#e6e6e6" shape-rendering="crispEdges"><line x1="752.0" y1="319.5" x2="760.0" y2="319.5"/><line x1="755.5" y1="317.0" x2="755.5" y2="321.0"/></g><text x="456.80" y="60.8" font-size="12" font-weight="bold" font-family="Liberation Sans, Arial, sans-serif" letter-spacing="0" fill="#f5f064" textLength="51.06" lengthAdjust="spacingAndGlyphs">106.5193</text><text x="709.00" y="64.8" font-size="12" font-weight="bold" font-family="Liberation Sans, Arial, sans-serif" letter-spacing="0" fill="#f5f064" textLength="48.99" lengthAdjust="spacingAndGlyphs">106.4911</text><text x="332.60" y="413" font-size="12" font-weight="bold" font-family="Liberation Sans, Arial, sans-serif" letter-spacing="0" fill="#22f0fa" textLength="51.36" lengthAdjust="spacingAndGlyphs">103.8774</text><text x="760.80" y="330.5" font-size="12" font-weight="bold" font-family="Liberation Sans, Arial, sans-serif" letter-spacing="0" fill="#22f0fa" textLength="50.86" lengthAdjust="spacingAndGlyphs">104.5185</text><g clip-path="url(#cm)"><polyline points="71.5,292.5 75.5,290.6 79.5,289.2 83.5,288.3 87.5,286.0 91.5,283.7 95.5,281.5 99.5,283.5 103.5,289.8 107.5,297.3 111.5,304.9 115.5,315.9 119.5,317.5 123.5,318.0 127.5,317.5 131.5,316.5 135.5,315.9 139.5,313.5 143.5,310.8 147.5,307.8 151.5,305.6 155.5,304.0 159.5,302.8 163.5,301.9 167.5,300.8 171.5,299.4 175.5,299.3 179.5,297.4 183.5,285.3 187.5,277.7 191.5,268.7 195.5,259.8 199.5,252.8 203.5,248.6 207.5,247.1 211.5,245.9 215.5,245.1 219.5,245.7 223.5,245.2 227.5,245.9 231.5,243.7 235.5,241.8 239.5,239.1 243.5,236.9 247.5,233.4 251.5,229.7 255.5,227.8 259.5,227.2 263.5,226.4 267.5,226.4 271.5,226.4 275.5,226.3 279.5,226.4 283.5,227.3 287.5,233.7 291.5,239.9 295.5,247.2 299.5,256.7 303.5,266.6 307.5,275.2 311.5,281.2 315.5,287.6 319.5,295.4 323.5,301.6 327.5,312.1 331.5,324.2 335.5,324.8 339.5,325.2 343.5,325.1 347.5,311.7 351.5,284.5 355.5,265.7 359.5,250.4 363.5,238.4 367.5,225.8 371.5,216.8 375.5,203.1 379.5,193.1 383.5,184.2 387.5,173.0 391.5,156.2 395.5,135.4 399.5,116.5 403.5,99.3 407.5,85.0 411.5,73.6 415.5,64.6 419.5,56.1 423.5,47.4 427.5,42.2 431.5,35.9 435.5,32.3 439.5,31.5 443.5,36.4 447.5,46.6 451.5,44.4 455.5,39.2 459.5,35.7 463.5,35.7 467.5,36.7 471.5,38.8 475.5,45.7 479.5,49.5 483.5,55.9 487.5,65.5 491.5,73.9 495.5,76.3 499.5,75.9 503.5,75.0 507.5,74.2 511.5,74.2 515.5,74.3 519.5,74.9 523.5,75.0 527.5,75.0 531.5,75.6 535.5,76.9 539.5,77.4 543.5,79.4 547.5,79.9 551.5,82.1 555.5,86.0 559.5,89.6 563.5,92.9 567.5,90.0 571.5,89.0 575.5,86.5 579.5,84.3 583.5,84.3 587.5,84.3 591.5,84.4 595.5,84.2 599.5,84.5 603.5,85.9 607.5,86.6 611.5,89.8 615.5,90.0 619.5,89.2 623.5,90.5 627.5,93.0 631.5,95.3 635.5,97.5 639.5,99.0 643.5,102.9 647.5,107.1 651.5,111.1 655.5,115.2 659.5,120.2 663.5,123.2 667.5,126.1 671.5,126.1 675.5,125.3 679.5,124.5 683.5,121.0 687.5,114.7 691.5,104.7 695.5,95.3 699.5,85.0 703.5,78.3 707.5,74.3 711.5,70.1 715.5,70.1 719.5,70.6 723.5,71.3 727.5,71.9 731.5,71.9 735.5,71.3 739.5,68.8 743.5,66.8 747.5,66.1 751.5,64.3 755.5,53.2 759.5,50.8 763.5,49.1 767.5,47.4 771.5,46.9 775.5,46.6 779.5,46.0 783.5,47.5 787.5,51.6 791.5,59.0 795.5,70.7 799.5,84.5 803.5,101.9 807.5,118.8 811.5,134.0 815.5,153.8 819.5,155.0 823.5,159.5 827.5,162.8 831.5,167.0 835.5,170.6 839.5,169.3 843.5,167.1 847.5,160.8 851.5,159.4 855.5,159.0 859.5,163.8 863.5,164.1 867.5,164.4 871.5,164.8 875.5,164.6 879.5,165.2 883.5,168.2" fill="none" stroke="#b4b4f5" stroke-width="1" shape-rendering="crispEdges" /><polyline points="71.5,383.2 75.5,381.4 79.5,379.9 83.5,378.7 87.5,377.7 91.5,376.3 95.5,374.3 99.5,369.5 103.5,364.2 107.5,358.8 111.5,354.4 115.5,350.9 119.5,348.6 123.5,347.2 127.5,345.6 131.5,344.0 135.5,342.7 139.5,342.0 143.5,341.4 147.5,340.8 151.5,339.8 155.5,338.9 159.5,337.9 163.5,336.9 167.5,335.7 171.5,335.9 175.5,334.3 179.5,332.2 183.5,327.9 187.5,323.7 191.5,320.3 195.5,316.6 199.5,313.2 203.5,310.3 207.5,308.3 211.5,306.5 215.5,304.3 219.5,302.1 223.5,300.2 227.5,298.1 231.5,299.7 235.5,300.5 239.5,301.9 243.5,303.5 247.5,305.9 251.5,309.0 255.5,311.6 259.5,312.7 263.5,314.5 267.5,315.3 271.5,316.5 275.5,316.4 279.5,317.4 283.5,319.1 287.5,322.1 291.5,325.1 295.5,327.9 299.5,331.5 303.5,335.5 307.5,339.4 311.5,342.5 315.5,345.4 319.5,348.6 323.5,352.6 327.5,355.7 331.5,358.9 335.5,359.7 339.5,360.3 343.5,360.8 347.5,358.0 351.5,352.3 355.5,346.3 359.5,340.9 363.5,336.4 367.5,331.2 371.5,327.3 375.5,321.9 379.5,318.2 383.5,313.5 387.5,308.0 391.5,301.6 395.5,293.7 399.5,286.0 403.5,277.6 407.5,268.8 411.5,259.9 415.5,251.2 419.5,242.2 423.5,232.5 427.5,221.4 431.5,210.9 435.5,200.2 439.5,189.3 443.5,179.2 447.5,168.3 451.5,160.6 455.5,155.1 459.5,149.7 463.5,145.0 467.5,139.6 471.5,135.1 475.5,131.0 479.5,128.1 483.5,125.3 487.5,122.4 491.5,119.7 495.5,117.9 499.5,116.9 503.5,115.8 507.5,114.9 511.5,114.3 515.5,114.3 519.5,113.4 523.5,112.8 527.5,112.7 531.5,113.5 535.5,114.3 539.5,114.4 543.5,115.1 547.5,115.5 551.5,116.5 555.5,117.8 559.5,119.3 563.5,121.0 567.5,123.0 571.5,125.6 575.5,128.1 579.5,129.4 583.5,129.8 587.5,129.8 591.5,129.6 595.5,130.3 599.5,131.7 603.5,133.7 607.5,136.8 611.5,138.3 615.5,141.0 619.5,143.0 623.5,145.4 627.5,147.6 631.5,150.3 635.5,151.7 639.5,152.1 643.5,153.0 647.5,154.1 651.5,156.7 655.5,158.4 659.5,159.9 663.5,162.1 667.5,163.7 671.5,163.6 675.5,163.0 679.5,162.0 683.5,160.2 687.5,158.7 691.5,156.5 695.5,154.1 699.5,151.1 703.5,148.5 707.5,146.3 711.5,142.9 715.5,144.2 719.5,143.2 723.5,142.5 727.5,141.8 731.5,141.8 735.5,142.1 739.5,143.9 743.5,147.5 747.5,151.6 751.5,155.2 755.5,159.6 759.5,163.0 763.5,166.7 767.5,169.1 771.5,171.4 775.5,174.7 779.5,179.2 783.5,183.0 787.5,187.6 791.5,193.1 795.5,198.6 799.5,204.3 803.5,210.6 807.5,215.9 811.5,220.0 815.5,224.0 819.5,224.4 823.5,225.4 827.5,226.2 831.5,227.2 835.5,228.1 839.5,227.7 843.5,227.0 847.5,225.0 851.5,224.1 855.5,223.6 859.5,221.0 863.5,220.0 867.5,218.7 871.5,217.9 875.5,217.2 879.5,216.2 883.5,214.2" fill="none" stroke="#e6e6e6" stroke-width="1" shape-rendering="crispEdges" /><polyline points="71.5,473.2 75.5,471.7 79.5,470.4 83.5,469.3 87.5,468.5 91.5,467.6 95.5,466.6 99.5,455.3 103.5,438.0 107.5,417.9 111.5,401.3 115.5,387.9 119.5,381.6 123.5,376.6 127.5,372.2 131.5,371.2 135.5,371.8 139.5,372.7 143.5,374.1 147.5,375.1 151.5,376.1 155.5,376.1 159.5,376.1 163.5,374.7 167.5,373.0 171.5,372.3 175.5,369.3 179.5,367.0 183.5,370.4 187.5,369.7 191.5,371.9 195.5,373.4 199.5,373.5 203.5,371.9 207.5,369.4 211.5,367.1 215.5,363.5 219.5,358.5 223.5,355.2 227.5,350.4 231.5,355.8 235.5,359.2 239.5,364.6 243.5,370.2 247.5,378.3 251.5,388.2 255.5,395.4 259.5,398.2 263.5,402.6 267.5,404.2 271.5,406.6 275.5,406.5 279.5,408.5 283.5,410.8 287.5,410.4 291.5,410.2 295.5,408.6 299.5,406.3 303.5,404.4 307.5,403.6 311.5,403.7 315.5,403.3 319.5,401.8 323.5,403.5 327.5,399.3 331.5,393.6 335.5,394.7 339.5,395.4 343.5,396.5 347.5,404.2 351.5,420.1 355.5,427.0 359.5,431.3 363.5,434.4 367.5,436.6 371.5,437.8 375.5,440.6 379.5,443.3 383.5,442.8 387.5,443.0 391.5,446.9 395.5,452.0 399.5,455.5 403.5,455.9 407.5,452.7 411.5,446.2 415.5,437.8 419.5,428.4 423.5,417.6 427.5,400.5 431.5,385.9 435.5,368.1 439.5,347.1 443.5,322.0 447.5,290.1 451.5,276.7 455.5,271.1 459.5,263.6 463.5,254.2 467.5,242.5 471.5,231.3 475.5,216.2 479.5,206.8 483.5,194.7 487.5,179.3 491.5,165.5 495.5,159.5 499.5,158.0 503.5,156.7 507.5,155.6 511.5,154.5 515.5,154.3 519.5,151.8 523.5,150.5 527.5,150.4 531.5,151.4 535.5,151.6 539.5,151.4 543.5,150.9 547.5,151.0 551.5,150.9 555.5,149.6 559.5,149.0 563.5,149.0 567.5,156.1 571.5,162.3 575.5,169.6 579.5,174.5 583.5,175.3 587.5,175.2 591.5,174.7 595.5,176.4 599.5,178.9 603.5,181.5 607.5,187.0 611.5,186.9 615.5,191.9 619.5,196.7 623.5,200.3 627.5,202.1 631.5,205.3 635.5,205.8 639.5,205.2 643.5,203.0 647.5,201.2 651.5,202.3 655.5,201.5 659.5,199.7 663.5,201.0 667.5,201.2 671.5,201.1 675.5,200.6 679.5,199.4 683.5,199.5 687.5,202.8 691.5,208.2 695.5,212.9 699.5,217.3 703.5,218.7 707.5,218.3 711.5,215.7 715.5,218.4 719.5,215.7 723.5,213.7 727.5,211.8 731.5,211.6 735.5,213.0 739.5,219.1 743.5,228.3 747.5,237.1 751.5,246.2 755.5,266.0 759.5,275.2 763.5,284.2 767.5,290.7 771.5,296.0 775.5,302.8 779.5,312.4 783.5,318.6 787.5,323.5 791.5,327.2 795.5,326.6 799.5,324.1 803.5,319.3 807.5,313.1 811.5,306.0 815.5,294.3 819.5,293.8 823.5,291.4 827.5,289.7 831.5,287.4 835.5,285.5 839.5,286.1 843.5,286.9 847.5,289.1 851.5,288.7 855.5,288.2 859.5,278.2 863.5,276.0 867.5,273.0 871.5,271.0 875.5,269.7 879.5,267.3 883.5,260.1" fill="none" stroke="#f0b4f0" stroke-width="1" shape-rendering="crispEdges" /></g><g stroke="#ff0000" stroke-width="1" shape-rendering="crispEdges"><line x1="319.2" y1="398.6" x2="902.8" y2="139.3"/><line x1="707" y1="321.6" x2="909" y2="230.1"/><line x1="723" y1="233.5" x2="902.5" y2="233.5"/></g><line x1="69" y1="217.5" x2="909" y2="217.5" stroke="#f0a040" stroke-dasharray="3 3" shape-rendering="crispEdges"/><rect x="909.5" y="217.5" width="66" height="16" fill="#000" stroke="#e8963c" shape-rendering="crispEdges"/><polygon points="969.5,213 974,208.8 974,213" fill="#f0a040"/><polygon points="969.5,217.5 973.3,213.8 974,213.8 974,217.5" fill="#f0a040"/><g clip-path="url(#cmacd)" shape-rendering="crispEdges"><rect x="71.0" y="562" width="1" height="6.2" fill="#2ee6e6"/><rect x="75.0" y="562" width="1" height="9.6" fill="#2ee6e6"/><rect x="79.0" y="562" width="1" height="13.1" fill="#2ee6e6"/><rect x="83.0" y="562" width="1" height="15.4" fill="#2ee6e6"/><rect x="87.0" y="562" width="1" height="12.6" fill="#2ee6e6"/><rect x="91.0" y="562" width="1" height="10.8" fill="#2ee6e6"/><rect x="95.0" y="562" width="1" height="9.0" fill="#2ee6e6"/><rect x="99.0" y="562" width="1" height="7.5" fill="#2ee6e6"/><rect x="103.0" y="562" width="1" height="5.9" fill="#2ee6e6"/><rect x="107.0" y="562" width="1" height="4.3" fill="#2ee6e6"/><rect x="111.0" y="562" width="1" height="4.7" fill="#2ee6e6"/><rect x="115.0" y="562" width="1" height="6.1" fill="#2ee6e6"/><rect x="119.0" y="562" width="1" height="4.9" fill="#2ee6e6"/><rect x="123.0" y="562" width="1" height="5.2" fill="#2ee6e6"/><rect x="127.0" y="562" width="1" height="1.0" fill="#2ee6e6"/><rect x="131.0" y="562" width="1" height="1.2" fill="#2ee6e6"/><rect x="135.0" y="562" width="1" height="1.1" fill="#2ee6e6"/><rect x="139.0" y="562.0" width="1" height="1.0" fill="#f0f078"/><rect x="143.0" y="561.7" width="1" height="1.3" fill="#f0f078"/><rect x="147.0" y="560.2" width="1" height="2.8" fill="#f0f078"/><rect x="151.0" y="560.2" width="1" height="2.8" fill="#f0f078"/><rect x="155.0" y="562" width="1" height="1.0" fill="#2ee6e6"/><rect x="159.0" y="562" width="1" height="1.6" fill="#2ee6e6"/><rect x="163.0" y="562" width="1" height="3.1" fill="#2ee6e6"/><rect x="167.0" y="562" width="1" height="4.1" fill="#2ee6e6"/><rect x="171.0" y="562" width="1" height="4.1" fill="#2ee6e6"/><rect x="175.0" y="562" width="1" height="4.6" fill="#2ee6e6"/><rect x="179.0" y="562" width="1" height="2.6" fill="#2ee6e6"/><rect x="183.0" y="556.5" width="1" height="6.5" fill="#f0f078"/><rect x="187.0" y="552.2" width="1" height="10.8" fill="#f0f078"/><rect x="191.0" y="549.8" width="1" height="13.2" fill="#f0f078"/><rect x="195.0" y="548.3" width="1" height="14.7" fill="#f0f078"/><rect x="199.0" y="549.1" width="1" height="13.9" fill="#f0f078"/><rect x="203.0" y="552.6" width="1" height="10.4" fill="#f0f078"/><rect x="207.0" y="558.8" width="1" height="4.2" fill="#f0f078"/><rect x="211.0" y="562" width="1" height="1.0" fill="#2ee6e6"/><rect x="215.0" y="562" width="1" height="3.8" fill="#2ee6e6"/><rect x="219.0" y="562" width="1" height="6.8" fill="#2ee6e6"/><rect x="223.0" y="562" width="1" height="8.0" fill="#2ee6e6"/><rect x="227.0" y="562" width="1" height="9.1" fill="#2ee6e6"/><rect x="231.0" y="562" width="1" height="19.6" fill="#2ee6e6"/><rect x="235.0" y="562" width="1" height="26.1" fill="#2ee6e6"/><rect x="239.0" y="562" width="1" height="30.3" fill="#2ee6e6"/><rect x="243.0" y="562" width="1" height="31.2" fill="#2ee6e6"/><rect x="247.0" y="562" width="1" height="32.9" fill="#2ee6e6"/><rect x="251.0" y="562" width="1" height="34.0" fill="#2ee6e6"/><rect x="255.0" y="562" width="1" height="31.3" fill="#2ee6e6"/><rect x="259.0" y="562" width="1" height="24.7" fill="#2ee6e6"/><rect x="263.0" y="562" width="1" height="20.6" fill="#2ee6e6"/><rect x="267.0" y="562" width="1" height="13.3" fill="#2ee6e6"/><rect x="271.0" y="562" width="1" height="9.0" fill="#2ee6e6"/><rect x="275.0" y="562.0" width="1" height="1.0" fill="#f0f078"/><rect x="279.0" y="562.0" width="1" height="1.0" fill="#f0f078"/><rect x="283.0" y="561.2" width="1" height="1.8" fill="#f0f078"/><rect x="287.0" y="558.3" width="1" height="4.7" fill="#f0f078"/><rect x="291.0" y="557.4" width="1" height="5.6" fill="#f0f078"/><rect x="295.0" y="555.6" width="1" height="7.4" fill="#f0f078"/><rect x="299.0" y="556.8" width="1" height="6.2" fill="#f0f078"/><rect x="303.0" y="559.9" width="1" height="3.1" fill="#f0f078"/><rect x="307.0" y="562" width="1" height="1.0" fill="#2ee6e6"/><rect x="311.0" y="562" width="1" height="1.9" fill="#2ee6e6"/><rect x="315.0" y="562" width="1" height="2.5" fill="#2ee6e6"/><rect x="319.0" y="562" width="1" height="2.9" fill="#2ee6e6"/><rect x="323.0" y="562" width="1" height="7.2" fill="#2ee6e6"/><rect x="327.0" y="562" width="1" height="5.1" fill="#2ee6e6"/><rect x="331.0" y="562" width="1" height="3.7" fill="#2ee6e6"/><rect x="335.0" y="562" width="1" height="2.5" fill="#2ee6e6"/><rect x="339.0" y="562" width="1" height="1.0" fill="#2ee6e6"/><rect x="343.0" y="562" width="1" height="1.0" fill="#2ee6e6"/><rect x="347.0" y="548.8" width="1" height="14.2" fill="#f0f078"/><rect x="351.0" y="530.9" width="1" height="32.1" fill="#f0f078"/><rect x="355.0" y="521.9" width="1" height="41.1" fill="#f0f078"/><rect x="359.0" y="518.7" width="1" height="44.3" fill="#f0f078"/><rect x="363.0" y="520.2" width="1" height="42.8" fill="#f0f078"/><rect x="367.0" y="521.7" width="1" height="41.3" fill="#f0f078"/><rect x="371.0" y="527.2" width="1" height="35.8" fill="#f0f078"/><rect x="375.0" y="527.7" width="1" height="35.3" fill="#f0f078"/><rect x="379.0" y="531.8" width="1" height="31.2" fill="#f0f078"/><rect x="383.0" y="537.3" width="1" height="25.7" fill="#f0f078"/><rect x="387.0" y="539.4" width="1" height="23.6" fill="#f0f078"/><rect x="391.0" y="536.1" width="1" height="26.9" fill="#f0f078"/><rect x="395.0" y="531.1" width="1" height="31.9" fill="#f0f078"/><rect x="399.0" y="529.9" width="1" height="33.1" fill="#f0f078"/><rect x="403.0" y="531.1" width="1" height="31.9" fill="#f0f078"/><rect x="407.0" y="534.9" width="1" height="28.1" fill="#f0f078"/><rect x="411.0" y="540.3" width="1" height="22.7" fill="#f0f078"/><rect x="415.0" y="546.8" width="1" height="16.2" fill="#f0f078"/><rect x="419.0" y="551.2" width="1" height="11.8" fill="#f0f078"/><rect x="423.0" y="553.1" width="1" height="9.9" fill="#f0f078"/><rect x="427.0" y="554.2" width="1" height="8.8" fill="#f0f078"/><rect x="431.0" y="555.1" width="1" height="7.9" fill="#f0f078"/><rect x="435.0" y="556.6" width="1" height="6.4" fill="#f0f078"/><rect x="439.0" y="558.4" width="1" height="4.6" fill="#f0f078"/><rect x="443.0" y="562" width="1" height="1.0" fill="#2ee6e6"/><rect x="447.0" y="562" width="1" height="2.9" fill="#2ee6e6"/><rect x="451.0" y="562" width="1" height="3.8" fill="#2ee6e6"/><rect x="455.0" y="562" width="1" height="6.0" fill="#2ee6e6"/><rect x="459.0" y="562" width="1" height="8.7" fill="#2ee6e6"/><rect x="463.0" y="562" width="1" height="14.4" fill="#2ee6e6"/><rect x="467.0" y="562" width="1" height="16.6" fill="#2ee6e6"/><rect x="471.0" y="562" width="1" height="20.0" fill="#2ee6e6"/><rect x="475.0" y="562" width="1" height="26.0" fill="#2ee6e6"/><rect x="479.0" y="562" width="1" height="29.1" fill="#2ee6e6"/><rect x="483.0" y="562" width="1" height="32.2" fill="#2ee6e6"/><rect x="487.0" y="562" width="1" height="33.6" fill="#2ee6e6"/><rect x="491.0" y="562" width="1" height="31.0" fill="#2ee6e6"/><rect x="495.0" y="562" width="1" height="25.9" fill="#2ee6e6"/><rect x="499.0" y="562" width="1" height="20.2" fill="#2ee6e6"/><rect x="503.0" y="562" width="1" height="15.2" fill="#2ee6e6"/><rect x="507.0" y="562" width="1" height="11.8" fill="#2ee6e6"/><rect x="511.0" y="562" width="1" height="11.5" fill="#2ee6e6"/><rect x="515.0" y="562" width="1" height="13.8" fill="#2ee6e6"/><rect x="519.0" y="562" width="1" height="12.4" fill="#2ee6e6"/><rect x="523.0" y="562" width="1" height="11.1" fill="#2ee6e6"/><rect x="527.0" y="562" width="1" height="9.7" fill="#2ee6e6"/><rect x="531.0" y="562" width="1" height="10.4" fill="#2ee6e6"/><rect x="535.0" y="562" width="1" height="9.1" fill="#2ee6e6"/><rect x="539.0" y="562" width="1" height="5.0" fill="#2ee6e6"/><rect x="543.0" y="562" width="1" height="4.3" fill="#2ee6e6"/><rect x="547.0" y="562" width="1" height="5.0" fill="#2ee6e6"/><rect x="551.0" y="562" width="1" height="6.2" fill="#2ee6e6"/><rect x="555.0" y="562" width="1" height="6.3" fill="#2ee6e6"/><rect x="559.0" y="562" width="1" height="8.2" fill="#2ee6e6"/><rect x="563.0" y="562" width="1" height="10.1" fill="#2ee6e6"/><rect x="567.0" y="562" width="1" height="16.0" fill="#2ee6e6"/><rect x="571.0" y="562" width="1" height="19.5" fill="#2ee6e6"/><rect x="575.0" y="562" width="1" height="22.1" fill="#2ee6e6"/><rect x="579.0" y="562" width="1" height="21.9" fill="#2ee6e6"/><rect x="583.0" y="562" width="1" height="16.4" fill="#2ee6e6"/><rect x="587.0" y="562" width="1" height="12.2" fill="#2ee6e6"/><rect x="591.0" y="562" width="1" height="8.7" fill="#2ee6e6"/><rect x="595.0" y="562" width="1" height="7.2" fill="#2ee6e6"/><rect x="599.0" y="562" width="1" height="6.3" fill="#2ee6e6"/><rect x="603.0" y="562" width="1" height="6.0" fill="#2ee6e6"/><rect x="607.0" y="562" width="1" height="9.0" fill="#2ee6e6"/><rect x="611.0" y="562" width="1" height="3.7" fill="#2ee6e6"/><rect x="615.0" y="562" width="1" height="6.6" fill="#2ee6e6"/><rect x="619.0" y="562" width="1" height="8.0" fill="#2ee6e6"/><rect x="623.0" y="562" width="1" height="7.7" fill="#2ee6e6"/><rect x="627.0" y="562" width="1" height="5.3" fill="#2ee6e6"/><rect x="631.0" y="562" width="1" height="5.6" fill="#2ee6e6"/><rect x="635.0" y="562" width="1" height="1.1" fill="#2ee6e6"/><rect x="639.0" y="555.8" width="1" height="7.2" fill="#f0f078"/><rect x="643.0" y="549.4" width="1" height="13.6" fill="#f0f078"/><rect x="647.0" y="549.0" width="1" height="14.0" fill="#f0f078"/><rect x="651.0" y="556.4" width="1" height="6.6" fill="#f0f078"/><rect x="655.0" y="558.0" width="1" height="5.0" fill="#f0f078"/><rect x="659.0" y="558.2" width="1" height="4.8" fill="#f0f078"/><rect x="663.0" y="562" width="1" height="1.0" fill="#2ee6e6"/><rect x="667.0" y="562" width="1" height="1.3" fill="#2ee6e6"/><rect x="671.0" y="562" width="1" height="1.0" fill="#2ee6e6"/><rect x="675.0" y="560.5" width="1" height="2.5" fill="#f0f078"/><rect x="679.0" y="558.5" width="1" height="4.5" fill="#f0f078"/><rect x="683.0" y="553.9" width="1" height="9.1" fill="#f0f078"/><rect x="687.0" y="548.0" width="1" height="15.0" fill="#f0f078"/><rect x="691.0" y="541.9" width="1" height="21.1" fill="#f0f078"/><rect x="695.0" y="538.6" width="1" height="24.4" fill="#f0f078"/><rect x="699.0" y="536.6" width="1" height="26.4" fill="#f0f078"/><rect x="703.0" y="539.0" width="1" height="24.0" fill="#f0f078"/><rect x="707.0" y="544.2" width="1" height="18.8" fill="#f0f078"/><rect x="711.0" y="547.2" width="1" height="15.8" fill="#f0f078"/><rect x="715.0" y="562" width="1" height="1.0" fill="#2ee6e6"/><rect x="719.0" y="562" width="1" height="7.5" fill="#2ee6e6"/><rect x="723.0" y="562" width="1" height="13.4" fill="#2ee6e6"/><rect x="727.0" y="562" width="1" height="16.1" fill="#2ee6e6"/><rect x="731.0" y="562" width="1" height="18.0" fill="#2ee6e6"/><rect x="735.0" y="562" width="1" height="22.4" fill="#2ee6e6"/><rect x="739.0" y="562" width="1" height="26.0" fill="#2ee6e6"/><rect x="743.0" y="562" width="1" height="29.1" fill="#2ee6e6"/><rect x="747.0" y="562" width="1" height="30.2" fill="#2ee6e6"/><rect x="751.0" y="562" width="1" height="30.2" fill="#2ee6e6"/><rect x="755.0" y="562" width="1" height="38.8" fill="#2ee6e6"/><rect x="759.0" y="562" width="1" height="34.4" fill="#2ee6e6"/><rect x="763.0" y="562" width="1" height="29.8" fill="#2ee6e6"/><rect x="767.0" y="562" width="1" height="24.2" fill="#2ee6e6"/><rect x="771.0" y="562" width="1" height="17.1" fill="#2ee6e6"/><rect x="775.0" y="562" width="1" height="13.1" fill="#2ee6e6"/><rect x="779.0" y="562" width="1" height="13.0" fill="#2ee6e6"/><rect x="783.0" y="562" width="1" height="8.4" fill="#2ee6e6"/><rect x="787.0" y="562" width="1" height="3.9" fill="#2ee6e6"/><rect x="791.0" y="562" width="1" height="1.0" fill="#2ee6e6"/><rect x="795.0" y="558.5" width="1" height="4.5" fill="#f0f078"/><rect x="799.0" y="554.4" width="1" height="8.6" fill="#f0f078"/><rect x="803.0" y="553.3" width="1" height="9.7" fill="#f0f078"/><rect x="807.0" y="550.7" width="1" height="12.3" fill="#f0f078"/><rect x="811.0" y="546.2" width="1" height="16.8" fill="#f0f078"/><rect x="815.0" y="542.0" width="1" height="21.0" fill="#f0f078"/><rect x="819.0" y="538.1" width="1" height="24.9" fill="#f0f078"/><rect x="823.0" y="536.1" width="1" height="26.9" fill="#f0f078"/><rect x="827.0" y="536.4" width="1" height="26.6" fill="#f0f078"/><rect x="831.0" y="538.2" width="1" height="24.8" fill="#f0f078"/><rect x="835.0" y="540.7" width="1" height="22.3" fill="#f0f078"/><rect x="839.0" y="542.2" width="1" height="20.8" fill="#f0f078"/><rect x="843.0" y="544.5" width="1" height="18.5" fill="#f0f078"/><rect x="847.0" y="543.7" width="1" height="19.3" fill="#f0f078"/><rect x="851.0" y="549.6" width="1" height="13.4" fill="#f0f078"/><rect x="855.0" y="556.7" width="1" height="6.3" fill="#f0f078"/><rect x="859.0" y="562" width="1" height="1.0" fill="#2ee6e6"/><rect x="863.0" y="562" width="1" height="3.6" fill="#2ee6e6"/><rect x="867.0" y="562" width="1" height="4.3" fill="#2ee6e6"/><rect x="871.0" y="562" width="1" height="5.9" fill="#2ee6e6"/><rect x="875.0" y="562" width="1" height="5.2" fill="#2ee6e6"/><rect x="879.0" y="562" width="1" height="5.3" fill="#2ee6e6"/><rect x="883.0" y="562" width="1" height="4.0" fill="#2ee6e6"/></g><g clip-path="url(#cmacd)"><polyline points="71.5,533.4 75.5,536.3 79.5,539.7 83.5,542.7 87.5,542.9 91.5,543.4 95.5,543.6 99.5,543.8 103.5,543.7 107.5,543.4 111.5,544.2 115.5,545.7 119.5,545.7 123.5,546.5 127.5,544.1 131.5,544.7 135.5,544.8 139.5,544.0 143.5,543.4 147.5,542.3 151.5,541.9 155.5,543.7 159.5,544.4 163.5,545.5 167.5,546.5 171.5,547.0 175.5,547.9 179.5,547.2 183.5,541.8 187.5,538.4 191.5,535.5 195.5,532.9 199.5,531.5 203.5,532.0 207.5,534.6 211.5,537.2 215.5,539.2 219.5,541.5 223.5,543.1 227.5,544.8 231.5,552.5 235.5,559.0 239.5,564.9 243.5,569.3 247.5,574.2 251.5,579.0 255.5,581.6 259.5,581.4 263.5,581.9 267.5,579.9 271.5,578.9 275.5,574.2 279.5,573.7 283.5,573.1 287.5,571.1 291.5,569.9 295.5,568.1 299.5,567.9 303.5,569.1 307.5,570.8 311.5,571.9 315.5,572.5 319.5,573.0 323.5,576.1 327.5,575.6 331.5,575.4 335.5,575.1 339.5,574.4 343.5,574.5 347.5,565.2 351.5,552.3 355.5,542.6 359.5,535.5 363.5,530.9 367.5,526.5 371.5,524.8 375.5,520.6 379.5,518.7 383.5,518.3 387.5,516.4 391.5,511.4 395.5,504.8 399.5,500.1 403.5,496.7 407.5,495.1 411.5,495.0 415.5,496.2 419.5,497.0 423.5,496.7 427.5,496.1 431.5,495.5 435.5,495.5 439.5,495.8 443.5,498.6 447.5,500.0 451.5,501.0 455.5,502.8 459.5,505.2 463.5,509.9 467.5,513.0 471.5,517.3 475.5,523.5 479.5,528.7 483.5,534.3 487.5,539.2 491.5,541.8 495.5,542.5 499.5,542.2 503.5,541.5 507.5,541.3 511.5,542.6 515.5,545.5 519.5,546.3 523.5,547.1 527.5,547.6 531.5,549.2 535.5,549.7 539.5,548.3 543.5,548.5 547.5,549.4 551.5,550.8 555.5,551.7 559.5,553.6 563.5,555.8 567.5,560.8 571.5,565.0 575.5,569.0 579.5,571.7 583.5,571.0 587.5,570.4 591.5,569.7 595.5,569.9 599.5,570.2 603.5,570.9 607.5,573.5 611.5,571.3 615.5,573.6 619.5,575.2 623.5,576.1 627.5,575.5 631.5,576.4 635.5,574.3 639.5,569.2 643.5,564.3 647.5,562.4 651.5,565.2 655.5,565.4 659.5,564.9 663.5,567.3 667.5,568.1 671.5,567.6 675.5,565.9 679.5,564.4 683.5,560.9 687.5,556.1 691.5,550.4 695.5,545.7 699.5,541.4 703.5,539.6 707.5,539.8 711.5,539.4 715.5,547.6 719.5,552.1 723.5,556.6 727.5,560.0 731.5,563.2 735.5,568.2 739.5,573.3 743.5,578.5 747.5,582.8 751.5,586.5 755.5,595.7 759.5,597.8 763.5,599.2 767.5,599.4 771.5,598.1 775.5,597.7 779.5,599.3 783.5,598.0 787.5,596.2 791.5,594.9 795.5,591.6 799.5,588.5 803.5,586.7 807.5,583.9 811.5,579.5 815.5,574.8 819.5,569.7 823.5,565.4 827.5,562.2 831.5,560.0 835.5,558.4 839.5,556.6 843.5,555.5 847.5,552.6 851.5,553.9 855.5,556.7 859.5,559.9 863.5,562.1 867.5,563.0 871.5,564.5 875.5,564.8 879.5,565.5 883.5,565.4" fill="none" stroke="#e6e6e6" stroke-width="1" shape-rendering="crispEdges" /><polyline points="71.5,530.3 75.5,531.5 79.5,533.1 83.5,535.0 87.5,536.6 91.5,538.0 95.5,539.1 99.5,540.0 103.5,540.8 107.5,541.3 111.5,541.9 115.5,542.7 119.5,543.3 123.5,543.9 127.5,543.9 131.5,544.1 135.5,544.2 139.5,544.2 143.5,544.0 147.5,543.7 151.5,543.3 155.5,543.4 159.5,543.6 163.5,544.0 167.5,544.5 171.5,545.0 175.5,545.6 179.5,545.9 183.5,545.1 187.5,543.8 191.5,542.1 195.5,540.3 199.5,538.5 203.5,537.2 207.5,536.7 211.5,536.8 215.5,537.3 219.5,538.1 223.5,539.1 227.5,540.2 231.5,542.7 235.5,546.0 239.5,549.8 243.5,553.7 247.5,557.8 251.5,562.0 255.5,565.9 259.5,569.0 263.5,571.6 267.5,573.3 271.5,574.4 275.5,574.4 279.5,574.2 283.5,574.0 287.5,573.4 291.5,572.7 295.5,571.8 299.5,571.0 303.5,570.6 307.5,570.7 311.5,570.9 315.5,571.2 319.5,571.6 323.5,572.5 327.5,573.1 331.5,573.6 335.5,573.9 339.5,574.0 343.5,574.1 347.5,572.3 351.5,568.3 355.5,563.2 359.5,557.6 363.5,552.3 367.5,547.1 371.5,542.7 375.5,538.2 379.5,534.3 383.5,531.1 387.5,528.2 391.5,524.8 395.5,520.8 399.5,516.7 403.5,512.7 407.5,509.2 411.5,506.3 415.5,504.3 419.5,502.8 423.5,501.6 427.5,500.5 431.5,499.5 435.5,498.7 439.5,498.1 443.5,498.2 447.5,498.6 451.5,499.1 455.5,499.8 459.5,500.9 463.5,502.7 467.5,504.8 471.5,507.3 475.5,510.5 479.5,514.2 483.5,518.2 487.5,522.4 491.5,526.3 495.5,529.5 499.5,532.0 503.5,533.9 507.5,535.4 511.5,536.8 515.5,538.6 519.5,540.1 523.5,541.5 527.5,542.7 531.5,544.0 535.5,545.2 539.5,545.8 543.5,546.3 547.5,547.0 551.5,547.7 555.5,548.5 559.5,549.5 563.5,550.8 567.5,552.8 571.5,555.2 575.5,558.0 579.5,560.7 583.5,562.8 587.5,564.3 591.5,565.4 595.5,566.3 599.5,567.1 603.5,567.8 607.5,569.0 611.5,569.4 615.5,570.3 619.5,571.3 623.5,572.2 627.5,572.9 631.5,573.6 635.5,573.7 639.5,572.8 643.5,571.1 647.5,569.4 651.5,568.5 655.5,567.9 659.5,567.3 663.5,567.3 667.5,567.5 671.5,567.5 675.5,567.2 679.5,566.6 683.5,565.5 687.5,563.6 691.5,561.0 695.5,557.9 699.5,554.6 703.5,551.6 707.5,549.3 711.5,547.3 715.5,547.3 719.5,548.3 723.5,550.0 727.5,552.0 731.5,554.2 735.5,557.0 739.5,560.3 743.5,563.9 747.5,567.7 751.5,571.5 755.5,576.3 759.5,580.6 763.5,584.3 767.5,587.4 771.5,589.5 775.5,591.1 779.5,592.8 783.5,593.8 787.5,594.3 791.5,594.4 795.5,593.9 799.5,592.8 803.5,591.6 807.5,590.0 811.5,587.9 815.5,585.3 819.5,582.2 823.5,578.8 827.5,575.5 831.5,572.4 835.5,569.6 839.5,567.0 843.5,564.7 847.5,562.3 851.5,560.6 855.5,559.8 859.5,559.8 863.5,560.3 867.5,560.8 871.5,561.6 875.5,562.2 879.5,562.9 883.5,563.4" fill="none" stroke="#b4b4f5" stroke-width="1" shape-rendering="crispEdges" /></g><g clip-path="url(#ckdj)"><polyline points="71.3,641.4 86.5,639.6 105.0,635.9 123.5,633.1 145.6,631.3 169.7,630.3 188.1,628.5 201.1,627.2 214.0,628.1 225.1,630.0 234.4,635.0 240.0,637.4 248.0,643.3 251.1,647.9 262.2,658.4 277.0,666.4 295.5,674.7 313.9,685.8 328.7,696.0 343.5,703.3 354.6,691.3 369.4,681.2 387.9,669.1 406.4,658.1 420.0,653.4 434.2,645.5 454.5,639.6 471.1,637.7 485.9,638.1 504.4,637.7 522.9,636.8 541.4,635.9 565.4,636.2 578.4,639.6 592.0,644.2 598.8,647.9 611.7,655.3 624.7,665.5 635.8,671.9 646.8,673.8 657.9,680.2 669.0,686.7 680.1,689.5 691.2,684.9 702.3,675.6 711.5,672.8 720.8,678.0 731.9,683.9 743.0,693.2 754.1,702.4 764.0,705.2 767.7,706.1 786.2,710.7 806.5,711.7 817.6,708.0 832.4,702.4 845.4,700.6 860.1,700.6 869.4,700.9 882.3,701.3" fill="none" stroke="#e6e6e6" stroke-width="1" shape-rendering="crispEdges" /><polyline points="71.3,645.1 86.5,642.3 105.0,638.7 123.5,635.0 145.6,632.6 169.7,631.3 188.1,630.3 206.6,628.1 225.1,628.5 234.4,629.4 240.0,631.8 248.0,633.1 258.5,643.3 277.0,656.2 295.5,666.4 313.9,676.2 332.4,688.6 347.2,695.4 354.6,695.0 369.4,689.1 387.9,681.2 406.4,668.2 420.0,660.8 430.5,656.2 449.0,647.0 467.5,641.4 485.9,639.2 504.4,638.7 522.9,637.7 541.4,636.8 565.4,636.4 578.4,637.4 592.0,640.5 602.5,644.2 621.0,653.4 639.5,665.5 657.9,673.8 676.4,683.0 687.5,684.9 702.3,682.1 713.4,678.4 728.2,678.4 743.0,685.8 764.0,696.9 777.0,703.3 795.5,708.0 813.9,710.2 832.4,705.2 850.9,702.1 869.4,700.9 882.3,701.3" fill="none" stroke="#b4b4f5" stroke-width="1" shape-rendering="crispEdges" /><polyline points="71.3,634.0 82.8,637.4 92.0,634.0 105.0,630.0 127.1,626.3 134.5,629.4 145.6,628.5 160.4,629.4 177.1,630.3 195.5,623.3 204.8,623.3 215.9,627.6 225.1,630.7 234.4,640.5 240.0,647.0 248.0,658.1 249.2,659.9 258.5,680.2 264.0,684.9 271.4,689.1 275.1,686.2 282.5,690.4 295.5,691.3 304.7,698.7 321.3,711.7 325.0,715.0 332.4,717.2 342.6,720.5 350.9,696.9 360.1,676.5 369.4,666.4 384.2,656.2 395.3,646.0 406.4,639.6 420.0,635.9 423.1,635.0 434.2,630.0 449.0,628.5 461.9,628.9 471.1,630.3 485.9,638.1 497.0,637.7 508.1,635.5 522.9,635.5 541.4,633.7 563.6,634.4 572.8,642.3 580.2,646.0 585.8,647.0 592.0,653.4 595.1,654.4 606.2,667.3 611.7,667.7 621.0,680.2 632.1,694.1 645.0,686.2 652.4,692.3 659.8,695.4 667.2,703.3 678.3,702.4 687.5,693.2 698.6,668.2 706.0,661.8 711.5,659.9 717.1,672.8 728.2,685.8 739.3,702.4 750.4,720.9 758.5,721.5 771.4,718.7 784.4,719.1 802.8,715.7 817.6,708.0 826.9,700.6 838.0,696.5 849.1,692.3 860.1,698.4 869.4,700.2 882.3,701.3" fill="none" stroke="#f0b4f0" stroke-width="1" shape-rendering="crispEdges" /></g><text x="70.30" y="16.5" font-size="12" font-weight="normal" font-family="Liberation Sans, Noto Sans CJK SC, sans-serif" letter-spacing="0" fill="#f2f2f2" textLength="46.22" lengthAdjust="spacingAndGlyphs">美元指数</text><text x="117.08" y="17" font-size="13" font-weight="bold" font-family="Liberation Sans, Noto Sans CJK SC, sans-serif" letter-spacing="0" fill="#ff6e0a" textLength="12.23" lengthAdjust="spacingAndGlyphs">【</text><text x="131.20" y="16.5" font-size="12" font-weight="normal" font-family="Liberation Sans, Noto Sans CJK SC, sans-serif" letter-spacing="0" fill="#ff6e0a" textLength="32.44" lengthAdjust="spacingAndGlyphs">240分</text><text x="164.90" y="17" font-size="13" font-weight="bold" font-family="Liberation Sans, Noto Sans CJK SC, sans-serif" letter-spacing="0" fill="#ff6e0a" textLength="11.45" lengthAdjust="spacingAndGlyphs">】</text><text x="206.30" y="15.6" font-size="12" font-weight="normal" font-family="Liberation Sans, Arial, sans-serif" letter-spacing="0" fill="#f2f2f2">ROC(12,6)</text><text x="286.60" y="15.6" font-size="12" font-weight="normal" font-family="Liberation Sans, Arial, sans-serif" letter-spacing="0" fill="#f2f2f2">BOLL(26,2)</text><text x="353.34" y="15.6" font-size="12" font-weight="normal" font-family="Liberation Sans, Arial, sans-serif" letter-spacing="0" fill="#f2f2f2" textLength="79.87" lengthAdjust="spacingAndGlyphs">MID:105.3488</text><text x="440.21" y="15.6" font-size="12" font-weight="normal" font-family="Liberation Sans, Arial, sans-serif" letter-spacing="0" fill="#b4b4f5" textLength="93.72" lengthAdjust="spacingAndGlyphs">UPPER:105.7107</text><text x="541.69" y="15.6" font-size="12" font-weight="normal" font-family="Liberation Sans, Arial, sans-serif" letter-spacing="0" fill="#f0b4f0" textLength="98.30" lengthAdjust="spacingAndGlyphs">LOWER:104.9870</text><text x="69.36" y="487.9" font-size="12" font-weight="normal" font-family="Liberation Sans, Arial, sans-serif" letter-spacing="0" fill="#f2f2f2" textLength="86.43" lengthAdjust="spacingAndGlyphs">MACD(26,12,9)</text><text x="160.10" y="487.9" font-size="12" font-weight="normal" font-family="Liberation Sans, Arial, sans-serif" letter-spacing="0" fill="#f2f2f2">DIFF:-0.0295</text><text x="239.08" y="487.9" font-size="12" font-weight="normal" font-family="Liberation Sans, Arial, sans-serif" letter-spacing="0" fill="#b4b4f5" textLength="69.85" lengthAdjust="spacingAndGlyphs">DEA:-0.0166</text><text x="316.76" y="487.9" font-size="12" font-weight="normal" font-family="Liberation Sans, Arial, sans-serif" letter-spacing="0" fill="#f0b4f0" textLength="82.53" lengthAdjust="spacingAndGlyphs">MACD:-0.0259</text><text x="69.99" y="614.6" font-size="12" font-weight="normal" font-family="Liberation Sans, Arial, sans-serif" letter-spacing="0" fill="#f2f2f2" textLength="71.22" lengthAdjust="spacingAndGlyphs">KDJ(60,20,5)</text><text x="144.78" y="614.6" font-size="12" font-weight="normal" font-family="Liberation Sans, Arial, sans-serif" letter-spacing="0" fill="#f2f2f2" textLength="55.65" lengthAdjust="spacingAndGlyphs">K:41.1231</text><text x="208.76" y="614.6" font-size="12" font-weight="normal" font-family="Liberation Sans, Arial, sans-serif" letter-spacing="0" fill="#b4b4f5" textLength="57.44" lengthAdjust="spacingAndGlyphs">D:41.1594</text><text x="274.00" y="614.6" font-size="12" font-weight="normal" font-family="Liberation Sans, Arial, sans-serif" letter-spacing="0" fill="#f0b4f0">J:41.0504</text><text x="88.80" y="735.9" font-size="12" font-weight="bold" font-family="Liberation Sans, Arial, sans-serif" letter-spacing="0" fill="#f2f2f2" textLength="31.23" lengthAdjust="spacingAndGlyphs">03/27</text><text x="257.00" y="735.9" font-size="12" font-weight="bold" font-family="Liberation Sans, Arial, sans-serif" letter-spacing="0" fill="#f2f2f2" textLength="31.23" lengthAdjust="spacingAndGlyphs">04/05</text><text x="409.30" y="735.9" font-size="12" font-weight="bold" font-family="Liberation Sans, Arial, sans-serif" letter-spacing="0" fill="#f2f2f2" textLength="31.13" lengthAdjust="spacingAndGlyphs">04/15</text><text x="569.70" y="735.9" font-size="12" font-weight="bold" font-family="Liberation Sans, Arial, sans-serif" letter-spacing="0" fill="#f2f2f2" textLength="30.23" lengthAdjust="spacingAndGlyphs">04/24</text><text x="737.00" y="735.9" font-size="12" font-weight="bold" font-family="Liberation Sans, Arial, sans-serif" letter-spacing="0" fill="#f2f2f2" textLength="30.23" lengthAdjust="spacingAndGlyphs">05/03</text><text x="911.86" y="230" font-size="12" font-weight="normal" font-family="Liberation Sans, Arial, sans-serif" letter-spacing="0" fill="#f0963c" textLength="52.00" lengthAdjust="spacingAndGlyphs">105.3239</text><circle cx="180.5" cy="13.5" r="4.2" fill="none" stroke="#ff6e0a" stroke-width="1.1"/><line x1="176.3" y1="13.5" x2="184.7" y2="13.5" stroke="#ff6e0a" stroke-width="1.1"/><line x1="180.5" y1="9.3" x2="180.5" y2="17.7" stroke="#ff6e0a" stroke-width="1.1"/><polygon points="197.4,4 202.6,9.2 199.2,9.2 199.2,14.2 195.6,14.2 195.6,9.2 192.2,9.2" fill="#ff1e1e"/><rect x="272.5" y="3.5" width="11" height="12" fill="#fff" stroke="#2840c8"/><rect x="284" y="5" width="1" height="11" fill="#888"/><rect x="274" y="16" width="11" height="1" fill="#888"/><polyline points="274,11 276.5,7.5 279,10 283,6" fill="none" stroke="#e02020" stroke-width="1"/><polyline points="274,14 277,10.5 280,13 283,9.5" fill="none" stroke="#2840c8" stroke-width="1"/><g stroke="#ff1010" stroke-width="1.1"><line x1="11.6" y1="608.0" x2="13.4" y2="608.0"/><line x1="10.0" y1="611.0" x2="11.4" y2="612.4"/><line x1="7.0" y1="612.6" x2="7.0" y2="614.4"/><line x1="4.0" y1="611.0" x2="2.6" y2="612.4"/><line x1="2.4" y1="608.0" x2="0.6" y2="608.0"/><line x1="4.0" y1="605.0" x2="2.6" y2="603.6"/><line x1="7.0" y1="603.4" x2="7.0" y2="601.6"/><line x1="10.0" y1="605.0" x2="11.4" y2="603.6"/></g><circle cx="7" cy="608" r="3.3" fill="#fff" stroke="#000" stroke-width="1"/><circle cx="7" cy="608" r="1.9" fill="#ff1010"/><rect x="846.5" y="3.5" width="13" height="13" fill="#080808" stroke="#a8a8a8" shape-rendering="crispEdges"/><rect x="862.5" y="3.5" width="13" height="13" fill="#080808" stroke="#a8a8a8" shape-rendering="crispEdges"/><rect x="878.5" y="3.5" width="13" height="13" fill="#080808" stroke="#a8a8a8" shape-rendering="crispEdges"/><rect x="894.5" y="3.5" width="13" height="13" fill="#080808" stroke="#a8a8a8" shape-rendering="crispEdges"/><g fill="#b4b4b4" shape-rendering="crispEdges"><rect x="848" y="9" width="3" height="2"/><rect x="855" y="9" width="3" height="2"/><rect x="852" y="5" width="2" height="3"/><rect x="852" y="12" width="2" height="3"/><rect x="852" y="9" width="2" height="2"/><rect x="865" y="6" width="1" height="9"/><rect x="864" y="13" width="10" height="1"/><rect x="868" y="7" width="1" height="5"/><rect x="881" y="6" width="1" height="9"/><rect x="880" y="13" width="10" height="1"/><rect x="901" y="9" width="3" height="1"/></g><g fill="#b4b4b4"><polygon points="865.5,4.5 863.5,7 867.5,7"/><polygon points="875,13.5 872.5,11.5 872.5,15.5"/><polygon points="869.5,9.5 872.5,7 872.5,12"/><polygon points="881.5,4.5 879.5,7 883.5,7"/><polygon points="891,13.5 888.5,11.5 888.5,15.5"/><polygon points="884,6.5 889.5,9.5 884,12.5"/><polygon points="906,9.5 903.5,7 903.5,12"/></g><rect x="896.5" y="5.5" width="2" height="9" fill="none" stroke="#b4b4b4" shape-rendering="crispEdges"/><polygon points="51,730.5 55.5,738 46.5,738" fill="#ff6e0a"/><rect x="0" y="743" width="974" height="17" fill="#1e1e1e"/><rect x="0" y="743" width="37" height="15" fill="#080808"/><rect x="38.5" y="743" width="38.0" height="15" fill="#080808"/><rect x="78" y="743" width="57" height="15" fill="#ff6e0a"/><rect x="137" y="743" width="74" height="15" fill="#080808"/><rect x="213" y="743" width="55" height="15" fill="#080808"/><rect x="270" y="743" width="56" height="15" fill="#080808"/><rect x="328" y="743" width="50" height="15" fill="#080808"/><rect x="380" y="743" width="50.5" height="15" fill="#080808"/><rect x="432.5" y="743" width="68.5" height="15" fill="#080808"/><rect x="503" y="743" width="43" height="15" fill="#080808"/><rect x="548" y="743" width="50" height="15" fill="#080808"/><rect x="600" y="743" width="45.5" height="15" fill="#080808"/><rect x="647" y="743" width="55.5" height="15" fill="#080808"/><rect x="704.5" y="743" width="51.0" height="15" fill="#080808"/><rect x="757" y="743" width="25" height="15" fill="#080808"/><text x="6.20" y="755.5" font-size="12" font-weight="normal" font-family="Liberation Sans, Noto Sans CJK SC, sans-serif" letter-spacing="0" fill="#f0f0f0" textLength="23.12" lengthAdjust="spacingAndGlyphs">指标</text><text x="46.00" y="755.5" font-size="12" font-weight="normal" font-family="Liberation Sans, Noto Sans CJK SC, sans-serif" letter-spacing="0" fill="#f0f0f0" textLength="22.61" lengthAdjust="spacingAndGlyphs">模板</text><text x="85.90" y="754.3" font-size="11" font-weight="normal" font-family="Liberation Mono, monospace" letter-spacing="0" fill="#ffffff" textLength="16.94" lengthAdjust="spacingAndGlyphs">VIP</text><text x="104.20" y="755.5" font-size="12" font-weight="normal" font-family="Liberation Sans, Noto Sans CJK SC, sans-serif" letter-spacing="0" fill="#ffffff" textLength="22.71" lengthAdjust="spacingAndGlyphs">指标</text><text x="142.89" y="754.8" font-size="11" font-weight="normal" font-family="Liberation Mono, monospace" letter-spacing="0" fill="#c8c8c8" textLength="60.02" lengthAdjust="spacingAndGlyphs">BARUPDN_UD</text><text x="218.56" y="754.8" font-size="11" font-weight="normal" font-family="Liberation Mono, monospace" letter-spacing="0" fill="#c8c8c8" textLength="43.34" lengthAdjust="spacingAndGlyphs">BIAS_UD</text><text x="276.98" y="754.8" font-size="11" font-weight="normal" font-family="Liberation Mono, monospace" letter-spacing="0" fill="#c8c8c8" textLength="42.32" lengthAdjust="spacingAndGlyphs">BOLL_UD</text><text x="335.80" y="754.8" font-size="11" font-weight="normal" font-family="Liberation Mono, monospace" letter-spacing="0" fill="#c8c8c8" textLength="35.65" lengthAdjust="spacingAndGlyphs">CCI_UD</text><text x="386.55" y="754.8" font-size="11" font-weight="normal" font-family="Liberation Mono, monospace" letter-spacing="0" fill="#c8c8c8" textLength="37.63" lengthAdjust="spacingAndGlyphs">DMI_UD</text><text x="438.68" y="754.8" font-size="11" font-weight="normal" font-family="Liberation Mono, monospace" letter-spacing="0" fill="#c8c8c8" textLength="54.71" lengthAdjust="spacingAndGlyphs">INSIDE_UD</text><text x="509.10" y="754.8" font-size="11" font-weight="normal" font-family="Liberation Mono, monospace" letter-spacing="0" fill="#c8c8c8" textLength="29.82" lengthAdjust="spacingAndGlyphs">KD_UD</text><text x="554.57" y="754.8" font-size="11" font-weight="normal" font-family="Liberation Mono, monospace" letter-spacing="0" fill="#c8c8c8" textLength="36.69" lengthAdjust="spacingAndGlyphs">KDJ_UD</text><text x="606.70" y="754.8" font-size="11" font-weight="normal" font-family="Liberation Mono, monospace" letter-spacing="0" fill="#c8c8c8" textLength="30.71" lengthAdjust="spacingAndGlyphs">MA_UD</text><text x="653.50" y="754.8" font-size="11" font-weight="normal" font-family="Liberation Mono, monospace" letter-spacing="0" fill="#c8c8c8" textLength="42.10" lengthAdjust="spacingAndGlyphs">MACD_UD</text><text x="710.80" y="754.8" font-size="11" font-weight="normal" font-family="Liberation Mono, monospace" letter-spacing="0" fill="#c8c8c8" textLength="36.66" lengthAdjust="spacingAndGlyphs">MTM_UD</text><text x="764.20" y="754.8" font-size="11" font-weight="normal" font-family="Liberation Mono, monospace" letter-spacing="0" fill="#c8c8c8" textLength="10.97" lengthAdjust="spacingAndGlyphs">&gt;&gt;</text><text x="8.70" y="738.6" font-size="12" font-weight="bold" font-family="Liberation Sans, Noto Sans CJK SC, sans-serif" letter-spacing="0" fill="#ff6e0a">240分</text></svg>
</body></html>
